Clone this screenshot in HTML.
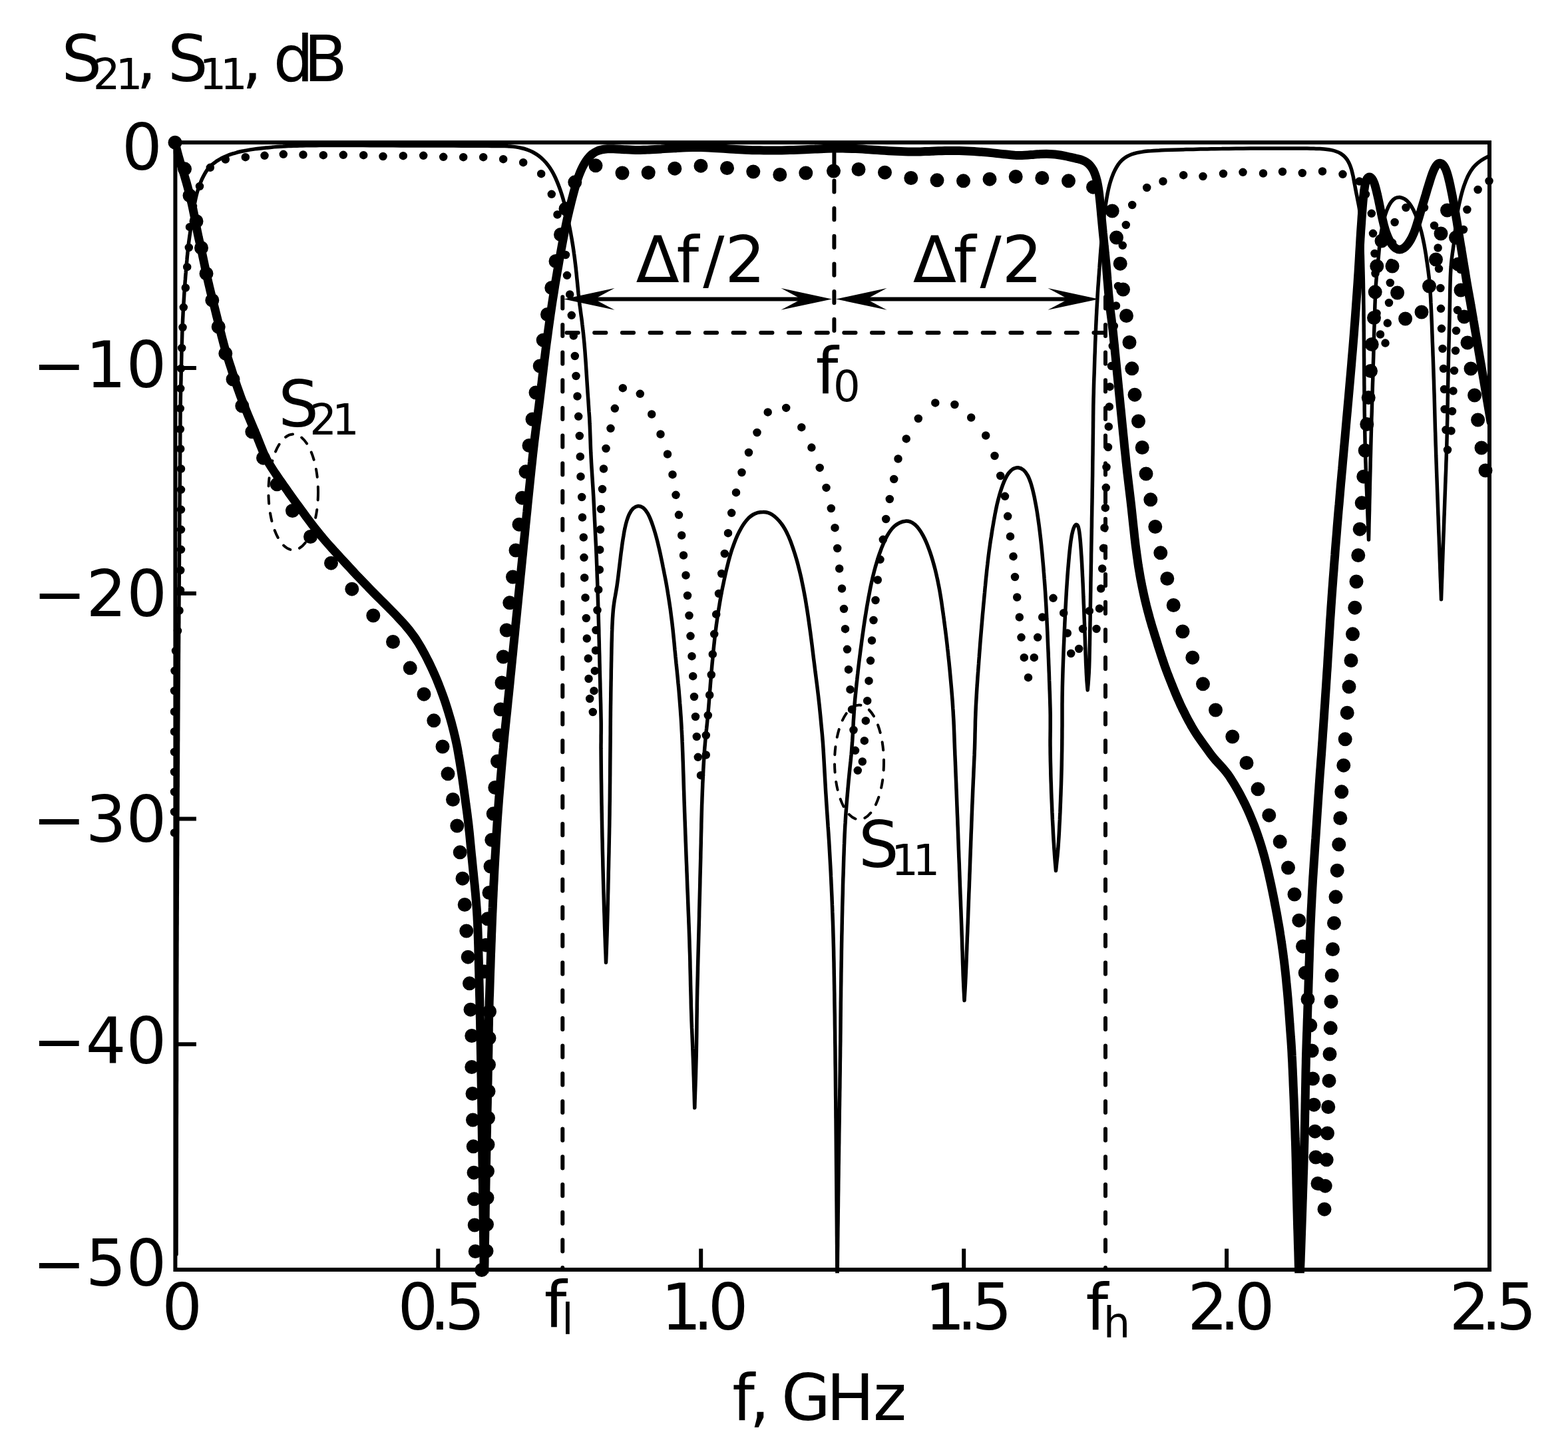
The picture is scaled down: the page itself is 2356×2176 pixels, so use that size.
<!DOCTYPE html>
<html lang="en"><head><meta charset="utf-8"><title>S21, S11 frequency response</title>
<style>html,body{margin:0;padding:0;background:#fff}body{width:2356px;height:2176px;overflow:hidden}svg{display:block}text{font-family:"DejaVu Sans","Liberation Sans",sans-serif;fill:#000}</style></head><body>
<svg xmlns="http://www.w3.org/2000/svg" width="2356" height="2176" viewBox="0 0 2356 2176">
<rect width="2356" height="2176" fill="#fff"/>
<defs><clipPath id="ax"><rect x="260.7" y="211.4" width="1980" height="1701.9"/></clipPath></defs>
<g fill="none" stroke="#000" stroke-width="6" stroke-linecap="round" stroke-dasharray="17.2 24.48">
<path d="M845.3 446.2V1908"/>
<path d="M1661 446.2V1908"/>
<path d="M1253.4 497V214"/>
<path d="M851.5 500H1662"/>
</g>
<g fill="none" stroke="#000" stroke-width="4" stroke-linecap="round" stroke-dasharray="12 14.5">
<ellipse cx="440.7" cy="739.5" rx="37.3" ry="87"/>
<ellipse cx="1291" cy="1145.5" rx="37" ry="86"/>
</g>
<g fill="none" stroke="#000" stroke-linejoin="round" stroke-linecap="round">
<path clip-path="url(#ax)" stroke-width="5.5" d="M265 1885C265 1881 265 1877.1 265 1873.1C265 1869.2 265 1865.2 265 1861.2C265 1857.3 265.1 1853.3 265.1 1849.4C265.1 1845.4 265.1 1841.5 265.1 1837.5C265.1 1833.5 265.1 1829.6 265.1 1825.6C265.1 1821.7 265.1 1817.7 265.1 1813.7C265.1 1809.8 265.1 1805.8 265.1 1801.9C265.1 1797.9 265.2 1794 265.2 1790C265.2 1786 265.2 1782.1 265.2 1778.1C265.2 1774.2 265.2 1770.2 265.2 1766.2C265.2 1762.3 265.2 1758.3 265.2 1754.4C265.2 1750.4 265.2 1746.5 265.2 1742.5C265.2 1738.5 265.3 1734.6 265.3 1730.6C265.3 1726.7 265.3 1722.7 265.3 1718.7C265.3 1714.8 265.3 1710.8 265.3 1706.9C265.3 1702.9 265.3 1699 265.3 1695C265.3 1691 265.3 1687.1 265.3 1683.1C265.3 1679.2 265.4 1675.2 265.4 1671.2C265.4 1667.3 265.4 1663.3 265.4 1659.4C265.4 1655.4 265.4 1651.5 265.4 1647.5C265.4 1643.5 265.4 1639.6 265.4 1635.6C265.4 1631.7 265.4 1627.7 265.5 1623.7C265.5 1619.8 265.5 1615.8 265.5 1611.9C265.5 1607.9 265.5 1604 265.5 1600C265.5 1596.1 265.5 1592.2 265.5 1588.2C265.5 1584.3 265.5 1580.4 265.5 1576.5C265.6 1572.5 265.6 1568.6 265.6 1564.7C265.6 1560.8 265.6 1556.9 265.6 1552.9C265.6 1549 265.6 1545.1 265.6 1541.2C265.6 1537.3 265.6 1533.3 265.6 1529.4C265.6 1525.5 265.7 1521.6 265.7 1517.6C265.7 1513.7 265.7 1509.8 265.7 1505.9C265.7 1502 265.7 1498 265.7 1494.1C265.7 1490.2 265.7 1486.3 265.7 1482.4C265.7 1478.4 265.8 1474.5 265.8 1470.6C265.8 1466.7 265.8 1462.7 265.8 1458.8C265.8 1454.9 265.8 1451 265.8 1447.1C265.8 1443.1 265.9 1439.2 265.9 1435.3C265.9 1431.4 265.9 1427.5 265.9 1423.5C265.9 1419.6 265.9 1415.7 266 1411.8C266 1407.9 266 1404 266 1400.1C266 1396.2 266 1392.4 266.1 1388.5C266.1 1384.7 266.1 1380.8 266.1 1377C266.1 1373.2 266.1 1369.3 266.2 1365.5C266.2 1361.7 266.2 1357.8 266.2 1354C266.2 1350.2 266.2 1346.3 266.3 1342.5C266.3 1338.7 266.3 1334.8 266.3 1331C266.3 1327.2 266.4 1323.3 266.4 1319.5C266.4 1315.7 266.4 1311.8 266.4 1308C266.5 1304.2 266.5 1300.3 266.5 1296.5C266.5 1292.7 266.5 1288.8 266.6 1285C266.6 1281.2 266.6 1277.3 266.6 1273.5C266.6 1269.7 266.7 1265.8 266.7 1262C266.7 1258.2 266.7 1254.3 266.8 1250.5C266.8 1246.7 266.8 1242.8 266.8 1239C266.8 1235.2 266.9 1231.3 266.9 1227.5C266.9 1223.7 266.9 1219.8 267 1216C267 1212.2 267 1208.3 267 1204.5C267 1200.7 267.1 1196.8 267.1 1193C267.1 1189.2 267.1 1185.3 267.2 1181.5C267.2 1177.7 267.2 1173.8 267.2 1170C267.2 1166.2 267.3 1162.3 267.3 1158.5C267.3 1154.7 267.3 1150.8 267.4 1147C267.4 1143.2 267.4 1139.3 267.4 1135.5C267.5 1131.6 267.5 1127.8 267.5 1123.9C267.5 1120 267.5 1116.1 267.6 1112.2C267.6 1108.3 267.6 1104.3 267.6 1100.4C267.7 1096.5 267.7 1092.6 267.7 1088.6C267.7 1084.7 267.8 1080.8 267.8 1076.8C267.8 1072.9 267.8 1069 267.9 1065.1C267.9 1061.1 267.9 1057.2 267.9 1053.3C268 1049.3 268 1045.4 268 1041.5C268 1037.5 268.1 1033.6 268.1 1029.7C268.1 1025.8 268.2 1021.8 268.2 1017.9C268.2 1014 268.2 1010 268.3 1006.1C268.3 1002.2 268.3 998.2 268.3 994.3C268.4 990.4 268.4 986.5 268.4 982.5C268.5 978.6 268.5 974.7 268.5 970.7C268.5 966.8 268.6 962.9 268.6 958.9C268.6 955 268.6 951.1 268.7 947.2C268.7 943.2 268.7 939.3 268.8 935.4C268.8 931.4 268.8 927.5 268.8 923.6C268.9 919.6 268.9 915.7 268.9 911.8C268.9 907.8 269 903.9 269 900C269 896 269.1 892 269.1 888.1C269.1 884.1 269.1 880.2 269.2 876.2C269.2 872.2 269.2 868.3 269.3 864.3C269.3 860.3 269.3 856.4 269.3 852.4C269.4 848.4 269.4 844.5 269.4 840.5C269.5 836.5 269.5 832.6 269.5 828.6C269.5 824.6 269.6 820.7 269.6 816.7C269.6 812.7 269.7 808.8 269.7 804.8C269.7 800.8 269.7 796.9 269.8 792.9C269.8 788.9 269.8 785 269.9 781C269.9 777 269.9 773.1 269.9 769.1C270 765.1 270 761.2 270 757.2C270.1 753.2 270.1 749.3 270.1 745.3C270.2 741.3 270.2 737.4 270.2 733.4C270.2 729.4 270.3 725.5 270.3 721.5C270.3 717.5 270.4 713.6 270.4 709.6C270.4 705.6 270.5 701.7 270.5 697.7C270.5 693.7 270.5 689.8 270.6 685.8C270.6 681.9 270.6 677.9 270.7 674C270.7 670.2 270.7 666.4 270.7 662.6C270.8 659 270.8 655.4 270.8 651.8C270.8 648.3 270.9 644.8 270.9 641.3C270.9 637.9 270.9 634.4 270.9 631C271 627.6 271 624.1 271 620.7C271.1 617.2 271.1 613.8 271.1 610.4C271.2 606.9 271.2 603.5 271.3 600.1C271.3 596.8 271.4 593.4 271.5 590C271.5 586.7 271.6 583.3 271.7 580C271.8 576.7 271.9 573.3 272 570C272 566.7 272.1 563.3 272.2 560C272.3 556.7 272.4 553.3 272.5 550C272.6 546.7 272.6 543.3 272.7 540C272.8 536.7 272.9 533.3 272.9 530C273 526.7 273.1 523.3 273.2 520C273.3 516.7 273.4 513.3 273.5 510C273.6 506.7 273.7 503.3 273.8 500C273.9 496.7 274 493.3 274.2 490C274.3 486.7 274.5 483.3 274.6 480C274.8 476.7 275 473.3 275.1 470C275.3 466.7 275.5 463.3 275.7 460C275.9 456.7 276.1 453.3 276.3 450C276.5 446.7 276.7 443.3 276.9 440C277.2 436.7 277.4 433.3 277.6 430C277.9 426.7 278.1 423.3 278.4 420C278.6 416.7 278.9 413.4 279.2 410C279.4 406.8 279.7 403.5 280 400.2C280.3 397 280.6 393.8 280.9 390.7C281.1 387.5 281.4 384.4 281.8 381.2C282.1 378.1 282.4 375 282.7 371.9C283.1 368.9 283.4 365.9 283.8 362.9C284.2 360 284.6 357.1 285 354.2C285.4 351.4 285.8 348.6 286.2 345.8C286.6 343 287 340.3 287.5 337.5C287.9 334.7 288.3 331.9 288.7 329.2C289.1 326.3 289.6 323.5 290 320.7C290.5 317.8 290.9 314.8 291.4 311.9C292 308.7 292.5 305.6 293.1 302.5C293.7 299.5 294.4 296.4 295.1 293.4C295.8 290.6 296.6 287.8 297.5 285C298.4 282.3 299.3 279.6 300.3 277C301.4 274.2 302.5 271.4 303.7 268.7C305 266 306.3 263.4 307.8 260.8C309.2 258.4 310.7 256 312.5 253.8C314.3 251.6 316.2 249.6 318.2 247.8C320.4 245.8 322.7 244.1 325.1 242.4C327.6 240.8 330.2 239.2 332.8 237.8C335.6 236.4 338.4 235.1 341.2 234C344 232.8 346.9 231.8 349.8 230.9C352.6 230 355.4 229.3 358.2 228.5C361 227.8 363.8 227.2 366.6 226.7C369.4 226.1 372.2 225.6 375 225.1C377.7 224.7 380.5 224.3 383.3 223.9C386.1 223.5 388.9 223.2 391.7 222.9C394.4 222.6 397.2 222.3 400 222C402.8 221.8 405.5 221.5 408.3 221.3C411.1 221 413.9 220.8 416.7 220.6C419.4 220.4 422.2 220.2 425 220.1C427.8 219.9 430.6 219.7 433.3 219.6C436.1 219.5 439 219.4 441.8 219.3C444.7 219.2 447.7 219.1 450.6 219C453.8 219 456.9 218.9 460.1 218.8C463.4 218.8 466.7 218.7 470 218.7C473.3 218.7 476.7 218.6 480 218.6C483.4 218.6 486.7 218.6 490.1 218.5C493.6 218.5 497 218.5 500.5 218.5C504.2 218.5 507.8 218.5 511.4 218.5C515.2 218.5 519 218.5 522.7 218.5C526.5 218.5 530.3 218.6 534.1 218.6C537.9 218.6 541.7 218.6 545.5 218.6C549.2 218.6 553 218.6 556.8 218.7C560.6 218.7 564.4 218.7 568.2 218.7C572 218.7 575.8 218.8 579.5 218.8C583.3 218.8 587.1 218.8 590.9 218.8C594.7 218.9 598.5 218.9 602.3 218.9C606.1 218.9 609.8 218.9 613.6 218.9C617.4 219 621.2 219 625 219C628.8 219 632.6 219 636.4 219C640.2 219 643.9 219.1 647.7 219.1C651.5 219.1 655.3 219.1 659.1 219.1C662.9 219.1 666.7 219.1 670.5 219.1C674.2 219.1 678 219.1 681.8 219.1C685.6 219.2 689.4 219.2 693.2 219.2C697 219.2 700.8 219.2 704.5 219.2C708.3 219.2 712.1 219.2 715.9 219.3C719.7 219.3 723.5 219.3 727.3 219.3C731 219.3 734.7 219.4 738.4 219.4C741.9 219.4 745.4 219.4 748.9 219.5C752 219.5 755.1 219.5 758.2 219.6C761 219.7 763.9 219.8 766.7 220C769.5 220.2 772.3 220.5 775.1 220.9C777.9 221.3 780.7 221.8 783.5 222.5C786.3 223.1 789.1 223.9 791.9 224.9C794.8 225.9 797.6 227.1 800.4 228.5C803.3 230.1 806.2 231.8 808.9 233.8C811.7 235.9 814.4 238.2 816.8 240.6C819.3 243.1 821.6 245.8 823.7 248.6C825.7 251.2 827.5 254 829.2 256.9C830.7 259.4 832.1 262.1 833.4 264.8C834.7 267.4 835.8 270 836.9 272.6C838.1 275.5 839.3 278.4 840.3 281.3C841.6 284.7 842.7 288 843.8 291.4C845 295.1 846.1 298.8 847.1 302.5C848.2 306.1 849.1 309.8 850 313.5C850.8 317 851.5 320.4 852.3 323.9C852.9 327 853.5 330.1 854.2 333.1C854.8 336 855.3 338.9 855.9 341.8C856.5 344.7 857 347.7 857.6 350.6C858.1 353.8 858.7 356.9 859.3 360.1C859.8 363.4 860.4 366.7 860.9 370C861.4 373.5 862 376.9 862.4 380.3C862.9 383.8 863.4 387.3 863.8 390.9C864.2 394.4 864.7 398 865.1 401.6C865.4 405 865.8 408.5 866.2 411.9C866.5 415.2 866.8 418.5 867.2 421.8C867.5 424.9 867.8 428.1 868.1 431.3C868.4 434.4 868.7 437.5 869 440.6C869.4 443.8 869.7 446.9 870.1 450C870.4 453.1 870.8 456.3 871.2 459.4C871.7 462.5 872.1 465.6 872.5 468.8C872.9 471.9 873.3 475 873.8 478.1C874.2 481.2 874.6 484.4 874.9 487.5C875.3 490.6 875.7 493.7 876 496.9C876.4 500 876.7 503.1 877 506.2C877.3 509.4 877.6 512.5 877.9 515.6C878.2 518.7 878.4 521.9 878.7 525C879 528.1 879.2 531.2 879.4 534.4C879.6 537.5 879.9 540.6 880.1 543.7C880.3 546.9 880.5 550 880.7 553.1C880.9 556.2 881.1 559.4 881.3 562.5C881.5 565.6 881.7 568.7 881.9 571.9C882.1 575 882.3 578.1 882.5 581.2C882.7 584.4 882.9 587.5 883.1 590.6C883.3 593.7 883.5 596.9 883.8 600C884 603.1 884.2 606.2 884.4 609.4C884.6 612.5 884.8 615.6 885 618.7C885.3 621.8 885.5 624.9 885.7 628C885.8 631 886 634 886.1 637C886.3 639.9 886.4 642.7 886.5 645.6C886.6 648.4 886.7 651.1 886.8 653.9C886.9 656.8 887 659.6 887.1 662.5C887.2 665.5 887.3 668.5 887.4 671.5C887.5 674.6 887.7 677.7 887.8 680.8C888 683.9 888.1 687 888.3 690.1C888.4 693.3 888.6 696.4 888.8 699.5C889 702.6 889.2 705.8 889.4 708.9C889.6 712 889.8 715.1 890 718.3C890.2 721.4 890.4 724.5 890.6 727.7C890.8 730.9 891 734 891.2 737.2C891.4 740.5 891.6 743.8 891.8 747C892 750.4 892.1 753.7 892.3 757C892.5 760.3 892.6 763.7 892.8 767C892.9 770.3 893.1 773.7 893.3 777C893.4 780.3 893.6 783.7 893.8 787C893.9 790.3 894.1 793.7 894.3 797C894.4 800.3 894.6 803.7 894.8 807C895 810.3 895.1 813.7 895.3 817C895.5 820.3 895.6 823.7 895.8 827C895.9 830.3 896.1 833.7 896.2 837C896.4 840.3 896.5 843.7 896.6 847C896.8 850.3 896.9 853.7 897 857C897.1 860.3 897.2 863.7 897.3 867C897.5 870.3 897.6 873.7 897.7 877C897.8 880.3 897.9 883.7 898 887C898.1 890.3 898.2 893.7 898.3 897C898.4 900.3 898.5 903.7 898.6 907C898.7 910.3 898.8 913.7 898.9 917C899 920.3 899.1 923.7 899.2 927C899.3 930.3 899.4 933.7 899.5 937C899.6 940.3 899.7 943.7 899.8 947C899.8 950.3 899.9 953.7 900 957C900.1 960.3 900.2 963.7 900.3 967C900.3 970.3 900.4 973.7 900.5 977C900.6 980.3 900.7 983.7 900.8 987C900.8 990.3 900.9 993.7 901 997C901.1 1000.3 901.2 1003.7 901.2 1007C901.3 1010.3 901.4 1013.7 901.5 1017C901.6 1020.3 901.7 1023.7 901.8 1027C901.8 1030.3 901.9 1033.7 902 1037C902.1 1040.3 902.2 1043.7 902.3 1047C902.4 1050.3 902.5 1053.7 902.6 1057C902.7 1060.3 902.7 1063.7 902.8 1067C902.9 1070.3 903 1073.6 903 1077C903.1 1080.2 903.2 1083.5 903.2 1086.7C903.2 1089.9 903.2 1093 903.2 1096.2C903.2 1099.3 903.2 1102.4 903.1 1105.5C903.1 1108.6 903.1 1111.7 903.1 1114.9C903 1118.1 903 1121.4 903 1124.7C903.1 1128.2 903.1 1131.7 903.1 1135.2C903.1 1138.9 903.2 1142.6 903.2 1146.2C903.2 1149.9 903.3 1153.6 903.3 1157.3C903.3 1161 903.4 1164.7 903.4 1168.4C903.5 1172.1 903.5 1175.9 903.6 1179.6C903.6 1183.3 903.7 1187 903.7 1190.7C903.8 1194.4 903.8 1198.1 903.9 1201.8C903.9 1205.5 904 1209.2 904.1 1212.9C904.1 1216.6 904.2 1220.3 904.3 1224C904.3 1227.7 904.4 1231.4 904.5 1235.1C904.5 1238.8 904.6 1242.5 904.7 1246.2C904.8 1249.9 904.8 1253.6 904.9 1257.3C905 1261 905.1 1264.7 905.2 1268.4C905.2 1272.2 905.3 1275.9 905.4 1279.6C905.5 1283.3 905.6 1287 905.7 1290.7C905.8 1294.4 905.8 1298.1 905.9 1301.8C906 1305.5 906.1 1309.2 906.2 1312.9C906.3 1316.5 906.4 1320.2 906.5 1323.9C906.6 1327.5 906.7 1331.1 906.8 1334.7C906.9 1338.3 907 1341.9 907.1 1345.4C907.2 1349 907.3 1352.6 907.4 1356.1C907.5 1359.7 907.6 1363.3 907.7 1366.9C907.8 1370.4 908 1374 908.1 1377.6C908.2 1381.2 908.3 1384.8 908.4 1388.4C908.5 1392.1 908.6 1395.7 908.8 1399.4C908.9 1403.3 909 1407.1 909.2 1410.9C909.3 1414.9 909.5 1418.8 909.6 1422.8C909.8 1426.7 909.9 1430.7 910.1 1434.6C910.2 1438.6 910.4 1442.5 910.5 1446.5L910.5 1446.5C910.7 1442.5 910.8 1438.6 911 1434.6C911.1 1430.7 911.3 1426.7 911.4 1422.8C911.6 1418.8 911.7 1414.9 911.8 1410.9C912 1407.1 912.1 1403.3 912.2 1399.4C912.3 1395.7 912.4 1392.1 912.5 1388.4C912.6 1384.8 912.7 1381.2 912.8 1377.6C912.9 1374 913 1370.4 913.1 1366.9C913.1 1363.3 913.2 1359.7 913.3 1356.1C913.4 1352.6 913.5 1349 913.5 1345.4C913.6 1341.8 913.7 1338.3 913.8 1334.7C913.8 1331.1 913.9 1327.5 914 1323.9C914.1 1320.2 914.2 1316.5 914.2 1312.9C914.3 1309.2 914.4 1305.5 914.5 1301.8C914.6 1298.1 914.6 1294.4 914.7 1290.7C914.8 1287 914.9 1283.3 915 1279.6C915 1275.9 915.1 1272.1 915.2 1268.4C915.3 1264.7 915.3 1261 915.4 1257.3C915.5 1253.6 915.6 1249.9 915.6 1246.2C915.7 1242.5 915.8 1238.8 915.8 1235.1C915.9 1231.4 915.9 1227.7 916 1224C916 1220.3 916.1 1216.6 916.1 1212.9C916.2 1209.2 916.2 1205.5 916.3 1201.8C916.3 1198.1 916.4 1194.4 916.4 1190.7C916.4 1187 916.5 1183.3 916.5 1179.6C916.6 1175.9 916.6 1172.1 916.6 1168.4C916.7 1164.7 916.7 1161 916.7 1157.3C916.7 1153.6 916.8 1149.9 916.8 1146.2C916.8 1142.5 916.9 1138.8 916.9 1135.2C916.9 1131.5 917 1127.9 917 1124.3C917 1120.8 917.1 1117.2 917.1 1113.7C917.1 1110.3 917.1 1106.8 917.2 1103.3C917.2 1099.9 917.2 1096.4 917.2 1093C917.3 1089.6 917.3 1086.1 917.3 1082.7C917.3 1079.2 917.4 1075.8 917.4 1072.3C917.4 1068.8 917.5 1065.3 917.5 1061.9C917.6 1058.3 917.6 1054.8 917.7 1051.3C917.7 1047.7 917.8 1044.1 917.8 1040.6C917.9 1037 917.9 1033.4 918 1029.9C918 1026.3 918.1 1022.7 918.2 1019.1C918.2 1015.6 918.3 1012 918.3 1008.4C918.4 1004.9 918.5 1001.3 918.5 997.8C918.6 994.3 918.7 990.8 918.7 987.3C918.8 983.9 918.9 980.5 918.9 977C919 973.7 919.1 970.3 919.1 967C919.2 963.7 919.3 960.3 919.4 957C919.5 953.6 919.5 950.3 919.7 946.9C919.8 943.5 919.9 940.1 920.1 936.7C920.3 933.2 920.4 929.6 920.7 926.1C920.9 922.5 921.2 919 921.5 915.4C921.9 912 922.3 908.7 922.8 905.3C923.2 902.1 923.8 899 924.4 895.8C924.9 892.7 925.5 889.6 926 886.5C926.6 883.3 927.1 880.1 927.5 876.9C928 873.6 928.4 870.3 928.8 867C929.2 863.7 929.6 860.3 930 857C930.4 853.7 930.8 850.3 931.2 847C931.6 843.7 932 840.3 932.4 837C932.8 833.6 933.2 830.2 933.7 826.9C934.2 823.4 934.6 819.9 935.1 816.3C935.7 812.6 936.2 808.9 936.9 805.2C937.5 801.3 938.1 797.5 939 793.7C939.8 789.9 940.6 786.2 941.8 782.5C942.9 779 944 775.5 945.7 772.2C947.3 769.2 949 766.2 951.4 764C953.5 762.2 956.1 760.6 958.8 760.4C961.4 760.2 964.1 761.4 966.3 763C968.9 764.9 970.7 767.6 972.4 770.3C974.4 773.3 975.8 776.6 977.2 779.9C978.6 783.3 979.9 786.8 981 790.3C982.2 793.9 983.3 797.4 984.4 801C985.4 804.5 986.4 808.1 987.3 811.6C988.2 815 989 818.5 989.8 821.9C990.6 825.2 991.3 828.6 992.1 832C992.8 835.3 993.5 838.6 994.2 842C994.9 845.3 995.6 848.6 996.2 852C996.9 855.3 997.6 858.6 998.2 862C998.9 865.3 999.5 868.6 1000.2 872C1000.8 875.3 1001.4 878.7 1002 882.1C1002.6 885.5 1003.2 889 1003.7 892.5C1004.3 896.1 1004.9 899.7 1005.4 903.3C1006 907 1006.5 910.7 1007.1 914.5C1007.6 918.2 1008.1 921.9 1008.5 925.7C1009 929.3 1009.5 932.9 1009.9 936.5C1010.3 940 1010.7 943.4 1011.1 946.9C1011.4 950.3 1011.8 953.6 1012.1 957C1012.4 960.3 1012.8 963.7 1013.1 967C1013.4 970.3 1013.7 973.7 1014 977C1014.4 980.3 1014.7 983.7 1015 987C1015.4 990.3 1015.7 993.7 1016 997C1016.4 1000.3 1016.7 1003.7 1017.1 1007C1017.4 1010.3 1017.7 1013.7 1018.1 1017C1018.4 1020.3 1018.7 1023.7 1019 1027C1019.4 1030.3 1019.7 1033.7 1020 1037C1020.3 1040.3 1020.5 1043.7 1020.8 1047C1021.1 1050.3 1021.4 1053.7 1021.6 1057C1021.9 1060.3 1022.1 1063.7 1022.4 1067C1022.6 1070.3 1022.8 1073.6 1023.1 1076.9C1023.3 1080.2 1023.5 1083.5 1023.7 1086.7C1023.9 1089.9 1024.1 1093 1024.2 1096.2C1024.4 1099.3 1024.6 1102.4 1024.7 1105.5C1024.9 1108.6 1025 1111.7 1025.1 1114.9C1025.3 1118.1 1025.4 1121.4 1025.5 1124.7C1025.6 1128.2 1025.8 1131.7 1025.9 1135.2C1026 1138.9 1026.1 1142.6 1026.3 1146.2C1026.4 1149.9 1026.5 1153.6 1026.6 1157.3C1026.7 1161 1026.9 1164.7 1027 1168.4C1027.1 1172.1 1027.2 1175.9 1027.3 1179.6C1027.4 1183.3 1027.5 1187 1027.7 1190.7C1027.8 1194.4 1027.9 1198.1 1028 1201.8C1028.1 1205.5 1028.3 1209.2 1028.4 1212.9C1028.5 1216.6 1028.6 1220.3 1028.8 1224C1028.9 1227.7 1029 1231.4 1029.2 1235.1C1029.3 1238.8 1029.4 1242.5 1029.6 1246.2C1029.7 1249.9 1029.8 1253.6 1030 1257.3C1030.1 1261 1030.2 1264.7 1030.4 1268.4C1030.5 1272.1 1030.7 1275.9 1030.8 1279.6C1030.9 1283.3 1031.1 1287 1031.2 1290.7C1031.4 1294.4 1031.5 1298.1 1031.7 1301.8C1031.8 1305.5 1031.9 1309.2 1032.1 1312.9C1032.2 1316.6 1032.4 1320.3 1032.5 1324C1032.6 1327.7 1032.8 1331.4 1032.9 1335.1C1033.1 1338.8 1033.2 1342.5 1033.4 1346.2C1033.5 1349.9 1033.7 1353.6 1033.8 1357.3C1033.9 1361 1034.1 1364.7 1034.2 1368.4C1034.4 1372.1 1034.5 1375.8 1034.7 1379.6C1034.8 1383.3 1034.9 1387 1035.1 1390.7C1035.2 1394.4 1035.4 1398.1 1035.5 1401.8C1035.6 1405.5 1035.8 1409.2 1035.9 1412.9C1036 1416.6 1036.1 1420.3 1036.2 1424C1036.3 1427.7 1036.5 1431.4 1036.6 1435.1C1036.7 1438.8 1036.8 1442.5 1036.9 1446.2C1036.9 1449.9 1037 1453.6 1037.1 1457.3C1037.2 1461 1037.3 1464.7 1037.4 1468.4C1037.5 1472.1 1037.5 1475.9 1037.6 1479.6C1037.7 1483.3 1037.8 1487 1037.9 1490.7C1038 1494.4 1038.1 1498.1 1038.2 1501.8C1038.2 1505.5 1038.3 1509.2 1038.4 1512.8C1038.5 1516.5 1038.7 1520.1 1038.8 1523.7C1038.9 1527.2 1039 1530.8 1039.1 1534.3C1039.3 1537.7 1039.4 1541.2 1039.5 1544.7C1039.7 1548.1 1039.8 1551.6 1040 1555C1040.1 1558.4 1040.3 1561.9 1040.4 1565.3C1040.6 1568.8 1040.7 1572.3 1040.8 1575.7C1041 1579.3 1041.1 1582.8 1041.2 1586.3C1041.4 1590 1041.5 1593.7 1041.6 1597.3C1041.8 1601 1041.9 1604.8 1042 1608.5C1042.1 1612.2 1042.2 1616 1042.4 1619.7C1042.5 1623.5 1042.6 1627.2 1042.7 1631C1042.8 1634.7 1042.9 1638.5 1043.1 1642.2C1043.2 1646 1043.3 1649.7 1043.4 1653.5C1043.5 1657.2 1043.6 1661 1043.8 1664.8L1043.8 1664.8C1043.9 1661 1044 1657.3 1044.1 1653.5C1044.3 1649.8 1044.4 1646 1044.5 1642.3C1044.6 1638.5 1044.8 1634.8 1044.9 1631C1045 1627.3 1045.1 1623.5 1045.3 1619.8C1045.4 1616 1045.5 1612.3 1045.6 1608.5C1045.7 1604.8 1045.8 1601 1045.9 1597.3C1046 1593.6 1046.1 1589.9 1046.2 1586.1C1046.3 1582.5 1046.4 1578.8 1046.4 1575.1C1046.5 1571.5 1046.6 1567.9 1046.6 1564.3C1046.7 1560.6 1046.7 1557 1046.8 1553.4C1046.8 1549.8 1046.9 1546.1 1046.9 1542.5C1046.9 1538.9 1047 1535.3 1047 1531.6C1047.1 1528 1047.1 1524.4 1047.2 1520.7C1047.2 1517.1 1047.3 1513.5 1047.3 1509.9C1047.4 1506.2 1047.4 1502.6 1047.5 1498.9C1047.6 1495.2 1047.7 1491.6 1047.7 1487.9C1047.8 1484.2 1047.9 1480.5 1048 1476.8C1048.1 1473.1 1048.2 1469.4 1048.3 1465.7C1048.4 1462 1048.5 1458.3 1048.5 1454.6C1048.6 1450.9 1048.7 1447.1 1048.8 1443.4C1048.9 1439.7 1049 1436 1049.1 1432.3C1049.2 1428.6 1049.3 1424.9 1049.4 1421.2C1049.5 1417.5 1049.6 1413.8 1049.7 1410.1C1049.8 1406.4 1049.9 1402.7 1050 1399C1050.1 1395.3 1050.2 1391.6 1050.3 1387.9C1050.4 1384.2 1050.5 1380.5 1050.6 1376.8C1050.6 1373.1 1050.7 1369.4 1050.8 1365.7C1050.9 1362 1051 1358.3 1051.1 1354.6C1051.2 1350.9 1051.3 1347.1 1051.4 1343.4C1051.5 1339.7 1051.6 1336 1051.7 1332.3C1051.8 1328.6 1051.9 1324.9 1051.9 1321.2C1052 1317.5 1052.1 1313.8 1052.2 1310.1C1052.3 1306.4 1052.4 1302.7 1052.5 1299C1052.6 1295.3 1052.7 1291.6 1052.8 1287.9C1052.8 1284.2 1052.9 1280.5 1053 1276.8C1053.1 1273.1 1053.2 1269.4 1053.3 1265.7C1053.3 1262 1053.4 1258.3 1053.5 1254.6C1053.6 1250.8 1053.7 1247.1 1053.8 1243.4C1053.8 1239.7 1053.9 1236 1054 1232.3C1054.1 1228.6 1054.2 1224.9 1054.3 1221.2C1054.4 1217.5 1054.5 1213.8 1054.6 1210.1C1054.8 1206.5 1054.9 1202.8 1055 1199.1C1055.1 1195.5 1055.3 1191.9 1055.4 1188.3C1055.6 1184.7 1055.7 1181.1 1055.8 1177.6C1056 1174 1056.2 1170.4 1056.3 1166.8C1056.5 1163.3 1056.7 1159.7 1056.8 1156.1C1057 1152.6 1057.2 1149 1057.4 1145.4C1057.6 1141.9 1057.8 1138.3 1058.1 1134.8C1058.3 1131.3 1058.5 1127.8 1058.8 1124.3C1059.1 1120.9 1059.4 1117.5 1059.7 1114.1C1060 1110.8 1060.3 1107.5 1060.6 1104.2C1061 1100.9 1061.3 1097.6 1061.7 1094.3C1062 1091 1062.4 1087.7 1062.7 1084.4C1063.1 1081 1063.4 1077.7 1063.7 1074.3C1064 1070.9 1064.3 1067.5 1064.6 1064.1C1064.9 1060.6 1065.2 1057.1 1065.4 1053.7C1065.7 1050.2 1066 1046.7 1066.2 1043.2C1066.5 1039.8 1066.8 1036.3 1067.1 1032.8C1067.3 1029.4 1067.6 1025.9 1067.9 1022.4C1068.2 1018.9 1068.5 1015.5 1068.8 1012C1069.1 1008.5 1069.4 1005 1069.7 1001.6C1070 998.1 1070.3 994.6 1070.7 991.1C1071 987.7 1071.3 984.2 1071.7 980.7C1072 977.3 1072.3 973.8 1072.7 970.3C1073.1 966.8 1073.4 963.4 1073.8 959.9C1074.2 956.5 1074.6 953.1 1075 949.6C1075.5 946.3 1075.9 942.9 1076.3 939.5C1076.8 936.2 1077.3 932.8 1077.7 929.5C1078.2 926.1 1078.7 922.8 1079.2 919.5C1079.8 916.1 1080.3 912.8 1080.9 909.4C1081.4 906 1082 902.6 1082.6 899.2C1083.2 895.8 1083.9 892.3 1084.5 888.8C1085.2 885.3 1085.9 881.7 1086.7 878.2C1087.4 874.7 1088.1 871.1 1088.9 867.6C1089.7 864 1090.5 860.4 1091.3 856.9C1092.2 853.3 1093.1 849.7 1094 846.1C1094.9 842.5 1095.9 838.9 1096.9 835.3C1097.9 831.8 1099 828.2 1100.2 824.7C1101.4 821.3 1102.6 817.8 1103.9 814.4C1105.2 811 1106.6 807.7 1108.1 804.4C1109.6 801.1 1111.2 797.9 1113 794.8C1114.7 791.7 1116.5 788.7 1118.6 785.9C1120.5 783.3 1122.5 780.8 1124.7 778.6C1126.7 776.7 1128.9 774.9 1131.3 773.5C1133.6 772.1 1136 771.1 1138.6 770.4C1141.1 769.7 1143.8 769.4 1146.4 769.4C1148.8 769.3 1151.4 769.6 1153.7 770.4C1156.2 771.1 1158.6 772.3 1160.7 773.8C1163.2 775.4 1165.5 777.4 1167.7 779.6C1170 781.9 1172.2 784.4 1174.1 787C1176.1 789.6 1177.8 792.3 1179.4 795.1C1181 797.9 1182.4 800.7 1183.7 803.6C1185.1 806.5 1186.3 809.5 1187.5 812.5C1188.7 815.6 1189.8 818.8 1190.9 822C1192.1 825.3 1193.1 828.6 1194.2 831.9C1195.2 835.2 1196.2 838.5 1197.2 841.9C1198.1 845.1 1199 848.4 1199.8 851.7C1200.7 855 1201.4 858.2 1202.2 861.4C1203 864.6 1203.7 867.7 1204.4 870.9C1205 874.1 1205.7 877.3 1206.3 880.4C1207 883.6 1207.6 886.8 1208.2 890C1208.8 893.2 1209.4 896.4 1210 899.7C1210.5 902.9 1211.1 906.2 1211.6 909.5C1212.2 912.8 1212.7 916.1 1213.2 919.5C1213.7 922.8 1214.2 926.1 1214.7 929.5C1215.2 932.8 1215.6 936.1 1216.1 939.5C1216.6 942.8 1217 946.2 1217.5 949.5C1217.9 952.8 1218.4 956.2 1218.8 959.5C1219.2 962.8 1219.7 966.2 1220.1 969.5C1220.5 972.8 1220.9 976.2 1221.3 979.5C1221.7 982.8 1222.1 986.2 1222.5 989.5C1222.9 992.8 1223.4 996.2 1223.8 999.5C1224.2 1002.8 1224.6 1006.2 1225 1009.5C1225.5 1012.8 1225.9 1016.2 1226.3 1019.5C1226.7 1022.8 1227.2 1026.2 1227.6 1029.5C1228 1032.8 1228.4 1036.2 1228.8 1039.5C1229.2 1042.8 1229.6 1046.2 1230 1049.5C1230.3 1052.8 1230.7 1056.2 1231.1 1059.5C1231.4 1062.8 1231.8 1066.2 1232.1 1069.5C1232.4 1072.8 1232.8 1076.2 1233.1 1079.5C1233.4 1082.8 1233.7 1086.1 1234 1089.4C1234.3 1092.5 1234.6 1095.7 1234.9 1098.8C1235.2 1101.7 1235.5 1104.6 1235.7 1107.5C1235.9 1110.4 1236.2 1113.2 1236.4 1116C1236.6 1119 1236.8 1122 1237 1125C1237.2 1128.3 1237.4 1131.6 1237.6 1134.9C1237.8 1138.4 1238 1141.9 1238.2 1145.4C1238.4 1149 1238.6 1152.6 1238.8 1156.1C1239 1159.7 1239.2 1163.3 1239.4 1166.9C1239.6 1170.4 1239.8 1174 1240 1177.6C1240.2 1181.1 1240.4 1184.7 1240.6 1188.3C1240.8 1191.9 1241.1 1195.4 1241.3 1199C1241.5 1202.6 1241.7 1206.1 1242 1209.7C1242.2 1213.3 1242.4 1216.9 1242.7 1220.4C1242.9 1224 1243.2 1227.6 1243.4 1231.1C1243.7 1234.7 1243.9 1238.3 1244.1 1241.9C1244.4 1245.4 1244.6 1249 1244.9 1252.6C1245.1 1256.1 1245.3 1259.7 1245.6 1263.3C1245.8 1266.9 1246 1270.4 1246.2 1274C1246.4 1277.6 1246.6 1281.1 1246.8 1284.7C1247 1288.3 1247.2 1291.9 1247.4 1295.4C1247.6 1299 1247.8 1302.6 1248 1306.1C1248.2 1309.7 1248.4 1313.3 1248.5 1316.9C1248.7 1320.4 1248.9 1324 1249 1327.6C1249.2 1331.1 1249.4 1334.7 1249.5 1338.3C1249.7 1341.9 1249.8 1345.4 1250 1349C1250.1 1352.6 1250.3 1356.1 1250.4 1359.7C1250.6 1363.3 1250.7 1366.9 1250.8 1370.4C1251 1374 1251.1 1377.6 1251.2 1381.1C1251.4 1384.7 1251.5 1388.3 1251.6 1391.9C1251.7 1395.4 1251.8 1399 1251.9 1402.6C1252 1406.2 1252.1 1409.7 1252.2 1413.3C1252.3 1417 1252.4 1420.7 1252.5 1424.3C1252.6 1428.1 1252.7 1431.9 1252.7 1435.6C1252.8 1439.5 1252.9 1443.3 1253 1447.1C1253 1451 1253.1 1454.9 1253.2 1458.7C1253.2 1462.6 1253.3 1466.4 1253.4 1470.3C1253.4 1474.1 1253.5 1478 1253.6 1481.9C1253.6 1485.7 1253.7 1489.6 1253.8 1493.4C1253.8 1497.3 1253.9 1501.1 1253.9 1505C1254 1508.9 1254 1512.7 1254.1 1516.6C1254.2 1520.4 1254.2 1524.3 1254.3 1528.1C1254.3 1532 1254.4 1535.9 1254.4 1539.7C1254.5 1543.6 1254.5 1547.4 1254.6 1551.3C1254.6 1555.1 1254.7 1559 1254.7 1562.9C1254.8 1566.7 1254.8 1570.6 1254.9 1574.4C1254.9 1578.3 1255 1582.2 1255 1586.1C1255 1590 1255.1 1594 1255.1 1597.9C1255.2 1601.9 1255.2 1605.8 1255.3 1609.8C1255.3 1613.7 1255.4 1617.7 1255.4 1621.7C1255.4 1625.6 1255.5 1629.6 1255.5 1633.6C1255.6 1637.5 1255.6 1641.5 1255.6 1645.4C1255.7 1649.4 1255.7 1653.4 1255.8 1657.3C1255.8 1661.3 1255.8 1665.3 1255.9 1669.2C1255.9 1673.2 1255.9 1677.1 1256 1681.1C1256 1685.1 1256.1 1689 1256.1 1693C1256.1 1697 1256.2 1700.9 1256.2 1704.9C1256.2 1708.9 1256.3 1712.8 1256.3 1716.8C1256.3 1720.7 1256.4 1724.7 1256.4 1728.7C1256.4 1732.6 1256.5 1736.6 1256.5 1740.6C1256.5 1744.5 1256.6 1748.5 1256.6 1752.4C1256.6 1756.4 1256.7 1760.4 1256.7 1764.3C1256.7 1768.3 1256.8 1772.3 1256.8 1776.2C1256.8 1780.2 1256.9 1784.1 1256.9 1788.1C1256.9 1792.1 1257 1796 1257 1800C1257 1803.9 1257.1 1807.9 1257.1 1811.8C1257.1 1815.8 1257.2 1819.7 1257.2 1823.6C1257.2 1827.6 1257.3 1831.5 1257.3 1835.5C1257.3 1839.4 1257.4 1843.3 1257.4 1847.3C1257.4 1851.2 1257.4 1855.2 1257.5 1859.1C1257.5 1863 1257.5 1867 1257.6 1870.9C1257.6 1874.8 1257.6 1878.8 1257.6 1882.7C1257.7 1886.7 1257.7 1890.6 1257.7 1894.5C1257.8 1898.5 1257.8 1902.4 1257.8 1906.4C1257.9 1910.3 1257.9 1914.2 1257.9 1918.2C1257.9 1922.1 1258 1926.1 1258 1930L1258 1930C1258 1926.1 1258.1 1922.1 1258.1 1918.2C1258.2 1914.2 1258.2 1910.3 1258.3 1906.4C1258.3 1902.4 1258.4 1898.5 1258.4 1894.5C1258.4 1890.6 1258.5 1886.7 1258.5 1882.7C1258.6 1878.8 1258.6 1874.8 1258.7 1870.9C1258.7 1867 1258.7 1863 1258.8 1859.1C1258.8 1855.2 1258.9 1851.2 1258.9 1847.3C1259 1843.3 1259 1839.4 1259.1 1835.5C1259.1 1831.5 1259.2 1827.6 1259.2 1823.6C1259.3 1819.7 1259.3 1815.8 1259.4 1811.8C1259.4 1807.9 1259.5 1803.9 1259.5 1800C1259.6 1796 1259.6 1792.1 1259.7 1788.1C1259.7 1784.1 1259.8 1780.2 1259.8 1776.2C1259.9 1772.3 1259.9 1768.3 1260 1764.3C1260 1760.4 1260.1 1756.4 1260.1 1752.4C1260.2 1748.5 1260.3 1744.5 1260.3 1740.6C1260.4 1736.6 1260.4 1732.6 1260.5 1728.7C1260.5 1724.7 1260.6 1720.7 1260.7 1716.8C1260.7 1712.8 1260.8 1708.9 1260.8 1704.9C1260.9 1700.9 1260.9 1697 1261 1693C1261.1 1689 1261.1 1685.1 1261.2 1681.1C1261.2 1677.1 1261.3 1673.2 1261.3 1669.2C1261.4 1665.3 1261.5 1661.3 1261.5 1657.3C1261.6 1653.4 1261.6 1649.4 1261.7 1645.4C1261.7 1641.5 1261.8 1637.5 1261.9 1633.6C1261.9 1629.6 1262 1625.6 1262 1621.7C1262.1 1617.7 1262.1 1613.7 1262.2 1609.8C1262.2 1605.8 1262.3 1601.9 1262.3 1597.9C1262.4 1594 1262.4 1590.1 1262.5 1586.3C1262.5 1582.5 1262.6 1578.6 1262.6 1574.8C1262.7 1571.1 1262.7 1567.3 1262.8 1563.6C1262.8 1559.9 1262.8 1556.1 1262.9 1552.4C1262.9 1548.7 1263 1544.9 1263 1541.2C1263 1537.5 1263.1 1533.7 1263.1 1530C1263.1 1526.3 1263.2 1522.5 1263.2 1518.8C1263.3 1515.1 1263.3 1511.3 1263.3 1507.6C1263.4 1503.9 1263.4 1500.1 1263.5 1496.4C1263.5 1492.7 1263.6 1488.9 1263.6 1485.2C1263.7 1481.5 1263.7 1477.8 1263.8 1474C1263.8 1470.3 1263.9 1466.6 1263.9 1462.9C1264 1459.2 1264 1455.5 1264.1 1451.8C1264.1 1448.1 1264.2 1444.4 1264.3 1440.7C1264.3 1437 1264.4 1433.3 1264.4 1429.6C1264.5 1425.9 1264.6 1422.1 1264.6 1418.4C1264.7 1414.7 1264.8 1411 1264.8 1407.3C1264.9 1403.6 1265 1399.9 1265.1 1396.2C1265.1 1392.5 1265.2 1388.8 1265.3 1385.1C1265.3 1381.5 1265.4 1377.8 1265.5 1374.1C1265.6 1370.5 1265.7 1366.9 1265.7 1363.3C1265.8 1359.7 1265.9 1356.1 1266 1352.6C1266.1 1349 1266.2 1345.4 1266.3 1341.9C1266.4 1338.3 1266.4 1334.7 1266.5 1331.1C1266.6 1327.6 1266.7 1324 1266.8 1320.4C1267 1316.9 1267.1 1313.3 1267.2 1309.7C1267.3 1306.2 1267.4 1302.7 1267.5 1299.1C1267.6 1295.6 1267.7 1292.1 1267.8 1288.6C1268 1285.1 1268.1 1281.6 1268.2 1278.2C1268.3 1274.7 1268.4 1271.2 1268.6 1267.7C1268.7 1264.3 1268.8 1260.8 1269 1257.3C1269.1 1253.9 1269.3 1250.4 1269.5 1246.9C1269.7 1243.4 1269.8 1240 1270.1 1236.5C1270.3 1233 1270.5 1229.5 1270.7 1226.1C1271 1222.6 1271.2 1219.1 1271.5 1215.7C1271.7 1212.2 1272 1208.7 1272.3 1205.2C1272.6 1201.8 1272.9 1198.3 1273.2 1194.8C1273.5 1191.4 1273.8 1187.9 1274.1 1184.4C1274.4 1181 1274.7 1177.6 1275 1174.2C1275.3 1170.8 1275.7 1167.4 1276 1164C1276.3 1160.7 1276.7 1157.3 1277 1154C1277.4 1150.7 1277.7 1147.3 1278.1 1144C1278.4 1140.7 1278.7 1137.3 1279.1 1134C1279.4 1130.6 1279.7 1127.3 1279.9 1123.9C1280.2 1120.5 1280.4 1117.1 1280.7 1113.7C1280.9 1110.2 1281.1 1106.8 1281.3 1103.3C1281.5 1099.9 1281.7 1096.4 1281.9 1093C1282.1 1089.6 1282.2 1086.1 1282.4 1082.7C1282.7 1079.2 1282.9 1075.8 1283.1 1072.3C1283.3 1068.9 1283.5 1065.5 1283.8 1062.1C1284.1 1058.7 1284.3 1055.4 1284.6 1052C1284.9 1048.7 1285.2 1045.3 1285.6 1042C1285.9 1038.6 1286.2 1035.3 1286.6 1032C1286.9 1028.7 1287.3 1025.3 1287.7 1022C1288 1018.7 1288.4 1015.3 1288.8 1012C1289.1 1008.7 1289.5 1005.3 1289.9 1002C1290.3 998.7 1290.7 995.3 1291.1 992C1291.5 988.7 1292 985.3 1292.4 982C1292.8 978.7 1293.2 975.3 1293.7 972C1294.1 968.7 1294.6 965.3 1295 962C1295.5 958.7 1295.9 955.3 1296.4 952C1296.9 948.6 1297.3 945.3 1297.8 942C1298.3 938.6 1298.8 935.3 1299.3 932C1299.8 928.6 1300.3 925.3 1300.9 922C1301.4 918.6 1302 915.3 1302.5 912C1303.1 908.6 1303.7 905.3 1304.3 902C1304.9 898.6 1305.5 895.3 1306.2 891.9C1306.8 888.6 1307.4 885.3 1308.1 881.9C1308.8 878.6 1309.5 875.3 1310.3 871.9C1311 868.6 1311.8 865.3 1312.7 861.9C1313.5 858.6 1314.4 855.2 1315.3 851.9C1316.3 848.5 1317.3 845.2 1318.3 841.9C1319.3 838.5 1320.4 835.2 1321.5 832C1322.7 828.8 1323.8 825.6 1325 822.5C1326.2 819.5 1327.5 816.5 1328.8 813.6C1330.1 810.7 1331.5 807.9 1333 805.2C1334.5 802.6 1336.1 800 1337.9 797.5C1339.7 795.1 1341.7 792.8 1343.9 790.8C1346.2 788.8 1348.7 787 1351.5 785.7C1354.2 784.4 1357.1 783.4 1360 783.2C1362.7 782.9 1365.5 783.3 1368 784.2C1370.7 785.2 1373 786.9 1375.1 788.7C1377.5 790.8 1379.5 793.3 1381.4 795.9C1383.6 798.8 1385.4 801.9 1387.1 805.1C1388.9 808.4 1390.5 811.8 1392 815.3C1393.5 818.8 1394.8 822.4 1396.1 826C1397.4 829.5 1398.6 833 1399.7 836.6C1400.8 840 1401.8 843.4 1402.7 846.9C1403.7 850.2 1404.5 853.5 1405.4 856.9C1406.2 860.2 1407 863.6 1407.7 866.9C1408.5 870.2 1409.2 873.5 1409.8 876.8C1410.5 880 1411.1 883.2 1411.7 886.4C1412.2 889.6 1412.8 892.8 1413.3 896C1413.8 899.1 1414.3 902.3 1414.8 905.5C1415.2 908.6 1415.7 911.8 1416.1 915C1416.6 918.2 1417.1 921.4 1417.5 924.7C1418 928 1418.4 931.2 1418.8 934.5C1419.3 937.8 1419.7 941.2 1420.1 944.5C1420.6 947.8 1421 951.1 1421.4 954.5C1421.8 957.8 1422.2 961.2 1422.6 964.5C1423 967.8 1423.4 971.2 1423.7 974.5C1424.1 977.8 1424.5 981.2 1424.8 984.5C1425.2 987.8 1425.5 991.2 1425.9 994.5C1426.2 997.8 1426.5 1001.2 1426.9 1004.5C1427.2 1007.8 1427.5 1011.2 1427.8 1014.5C1428.1 1017.8 1428.4 1021.2 1428.7 1024.5C1429 1027.8 1429.3 1031.2 1429.6 1034.5C1429.9 1037.8 1430.1 1041.2 1430.4 1044.5C1430.7 1047.8 1430.9 1051.2 1431.2 1054.5C1431.4 1057.8 1431.6 1061.2 1431.8 1064.5C1432.1 1067.8 1432.3 1071.1 1432.4 1074.5C1432.6 1077.8 1432.8 1081.1 1433 1084.4C1433.1 1087.7 1433.3 1091 1433.4 1094.3C1433.5 1097.6 1433.7 1100.9 1433.8 1104.2C1433.9 1107.5 1434 1110.8 1434.1 1114.1C1434.3 1117.5 1434.4 1120.9 1434.5 1124.3C1434.7 1127.8 1434.8 1131.3 1434.9 1134.8C1435.1 1138.3 1435.2 1141.9 1435.4 1145.4C1435.5 1149 1435.7 1152.6 1435.8 1156.1C1435.9 1159.7 1436.1 1163.3 1436.2 1166.9C1436.4 1170.4 1436.5 1174 1436.7 1177.6C1436.8 1181.2 1436.9 1184.7 1437.1 1188.3C1437.2 1191.9 1437.4 1195.5 1437.5 1199.1C1437.6 1202.8 1437.8 1206.5 1437.9 1210.1C1438.1 1213.8 1438.2 1217.5 1438.3 1221.2C1438.5 1224.9 1438.6 1228.6 1438.8 1232.3C1438.9 1236 1439 1239.7 1439.2 1243.4C1439.3 1247.1 1439.5 1250.9 1439.6 1254.6C1439.7 1258.3 1439.9 1262 1440 1265.7C1440.1 1269.4 1440.3 1273.1 1440.4 1276.8C1440.6 1280.5 1440.7 1284.2 1440.8 1287.9C1441 1291.6 1441.1 1295.3 1441.3 1299C1441.4 1302.7 1441.5 1306.4 1441.7 1310.1C1441.8 1313.8 1442 1317.5 1442.1 1321.2C1442.2 1324.9 1442.4 1328.6 1442.5 1332.3C1442.7 1336 1442.8 1339.7 1442.9 1343.4C1443.1 1347.1 1443.2 1350.9 1443.4 1354.6C1443.5 1358.3 1443.6 1362 1443.8 1365.7C1443.9 1369.4 1444.1 1373.1 1444.2 1376.8C1444.3 1380.5 1444.5 1384.2 1444.6 1387.9C1444.7 1391.5 1444.9 1395.2 1445 1398.9C1445.1 1402.5 1445.2 1406.1 1445.4 1409.7C1445.5 1413.3 1445.6 1416.8 1445.7 1420.4C1445.8 1424 1445.9 1427.6 1446.1 1431.1C1446.2 1434.7 1446.3 1438.3 1446.4 1441.9C1446.5 1445.4 1446.6 1449 1446.8 1452.6C1446.9 1456.1 1447 1459.7 1447.1 1463.2C1447.2 1466.7 1447.4 1470.2 1447.5 1473.7C1447.7 1477 1447.8 1480.4 1448 1483.8C1448.1 1487.1 1448.3 1490.4 1448.5 1493.7C1448.6 1496.9 1448.8 1500.2 1449 1503.5L1449 1503.5C1449.2 1500.2 1449.4 1496.9 1449.6 1493.7C1449.8 1490.4 1450 1487.1 1450.2 1483.8C1450.4 1480.4 1450.6 1477 1450.7 1473.7C1450.9 1470.2 1451.1 1466.7 1451.2 1463.2C1451.4 1459.7 1451.5 1456.1 1451.7 1452.6C1451.8 1449 1452 1445.4 1452.1 1441.9C1452.2 1438.3 1452.4 1434.7 1452.5 1431.1C1452.7 1427.6 1452.8 1424 1452.9 1420.4C1453.1 1416.9 1453.2 1413.3 1453.3 1409.7C1453.5 1406.1 1453.6 1402.5 1453.8 1398.9C1453.9 1395.2 1454 1391.5 1454.2 1387.9C1454.3 1384.2 1454.5 1380.5 1454.6 1376.8C1454.7 1373.1 1454.9 1369.4 1455 1365.7C1455.2 1362 1455.3 1358.3 1455.4 1354.6C1455.6 1350.9 1455.7 1347.1 1455.8 1343.4C1456 1339.7 1456.1 1336 1456.3 1332.3C1456.4 1328.6 1456.5 1324.9 1456.7 1321.2C1456.8 1317.5 1456.9 1313.8 1457.1 1310.1C1457.2 1306.4 1457.4 1302.7 1457.5 1299C1457.6 1295.3 1457.8 1291.6 1457.9 1287.9C1458 1284.2 1458.2 1280.5 1458.3 1276.8C1458.5 1273.1 1458.6 1269.4 1458.7 1265.7C1458.9 1262 1459 1258.3 1459.1 1254.6C1459.3 1250.9 1459.4 1247.1 1459.6 1243.4C1459.7 1239.7 1459.8 1236 1460 1232.3C1460.1 1228.6 1460.2 1224.9 1460.4 1221.2C1460.5 1217.5 1460.7 1213.8 1460.8 1210.1C1461 1206.5 1461.1 1202.8 1461.3 1199.1C1461.4 1195.5 1461.6 1191.9 1461.7 1188.3C1461.9 1184.7 1462 1181.2 1462.2 1177.6C1462.3 1174 1462.5 1170.4 1462.7 1166.9C1462.8 1163.3 1463 1159.7 1463.1 1156.1C1463.3 1152.6 1463.5 1149 1463.6 1145.4C1463.8 1141.9 1463.9 1138.3 1464.1 1134.7C1464.2 1131.2 1464.3 1127.7 1464.5 1124.1C1464.6 1120.7 1464.7 1117.2 1464.8 1113.7C1464.9 1110.2 1465 1106.8 1465 1103.3C1465.1 1099.9 1465.2 1096.4 1465.3 1093C1465.4 1089.6 1465.4 1086.1 1465.5 1082.7C1465.6 1079.2 1465.8 1075.8 1465.9 1072.3C1466 1068.8 1466.2 1065.3 1466.3 1061.9C1466.5 1058.3 1466.7 1054.8 1466.9 1051.3C1467.1 1047.7 1467.3 1044.1 1467.5 1040.6C1467.7 1037 1467.9 1033.4 1468.2 1029.8C1468.4 1026.3 1468.7 1022.7 1468.9 1019.1C1469.1 1015.6 1469.4 1012 1469.7 1008.4C1469.9 1004.8 1470.2 1001.3 1470.5 997.7C1470.7 994.1 1471 990.6 1471.3 987C1471.5 983.4 1471.8 979.9 1472.1 976.3C1472.4 972.7 1472.6 969.1 1472.9 965.6C1473.2 962 1473.5 958.4 1473.8 954.8C1474.1 951.3 1474.4 947.7 1474.7 944.1C1475 940.6 1475.3 937 1475.6 933.4C1475.9 929.8 1476.2 926.3 1476.5 922.7C1476.9 919.1 1477.2 915.6 1477.5 912C1477.8 908.4 1478.2 904.8 1478.5 901.3C1478.8 897.7 1479.1 894.1 1479.5 890.6C1479.8 887 1480.1 883.4 1480.5 879.8C1480.8 876.3 1481.2 872.7 1481.5 869.1C1481.9 865.5 1482.3 862 1482.6 858.4C1483 854.8 1483.4 851.3 1483.8 847.7C1484.2 844.2 1484.6 840.7 1485 837.3C1485.4 833.8 1485.9 830.4 1486.3 827C1486.8 823.7 1487.3 820.3 1487.7 817C1488.2 813.6 1488.7 810.3 1489.3 807C1489.8 803.6 1490.3 800.3 1490.8 797C1491.4 793.7 1491.9 790.5 1492.5 787.2C1493 784 1493.6 780.8 1494.2 777.6C1494.7 774.5 1495.3 771.3 1496 768.2C1496.6 765 1497.2 761.9 1497.9 758.8C1498.7 755.6 1499.4 752.4 1500.3 749.2C1501.2 745.9 1502.1 742.6 1503.1 739.3C1504.1 736 1505.2 732.7 1506.4 729.5C1507.6 726.3 1508.8 723.1 1510.3 720C1511.7 717.1 1513.1 714.1 1515.1 711.5C1517 709.1 1519 706.6 1521.7 705C1524.2 703.6 1527.1 702.6 1530 702.8C1532.9 703.1 1535.8 704.6 1538.1 706.5C1540.7 708.7 1542.6 711.7 1544.2 714.6C1546 717.8 1547.2 721.3 1548.4 724.7C1549.6 728.2 1550.5 731.7 1551.5 735.3C1552.4 738.9 1553.2 742.5 1554 746.1C1554.7 749.7 1555.4 753.3 1556.1 756.9C1556.8 760.4 1557.4 764 1558 767.6C1558.6 771.1 1559.1 774.7 1559.6 778.2C1560.1 781.7 1560.6 785.3 1561.1 788.8C1561.6 792.3 1562 795.8 1562.4 799.2C1562.8 802.6 1563.2 806 1563.6 809.4C1564 812.8 1564.3 816.1 1564.7 819.5C1565 822.8 1565.3 826.1 1565.7 829.5C1566 832.8 1566.3 836.2 1566.6 839.5C1566.9 842.8 1567.2 846.2 1567.5 849.5C1567.8 852.8 1568.1 856.2 1568.3 859.5C1568.6 862.8 1568.9 866.2 1569.1 869.5C1569.4 872.8 1569.6 876.2 1569.9 879.5C1570.1 882.8 1570.3 886.2 1570.6 889.5C1570.8 892.8 1571 896.2 1571.2 899.5C1571.4 902.8 1571.6 906.2 1571.8 909.5C1572 912.8 1572.2 916.2 1572.3 919.5C1572.5 922.8 1572.7 926.2 1572.8 929.5C1573 932.8 1573.1 936.2 1573.3 939.5C1573.5 942.9 1573.6 946.3 1573.8 949.7C1573.9 953.1 1574.1 956.5 1574.2 959.9C1574.3 963.4 1574.5 966.9 1574.6 970.3C1574.8 973.8 1574.9 977.3 1575.1 980.7C1575.2 984.2 1575.3 987.7 1575.5 991.2C1575.6 994.6 1575.7 998.1 1575.9 1001.6C1576 1005.1 1576.1 1008.5 1576.3 1012C1576.4 1015.5 1576.5 1018.9 1576.6 1022.4C1576.8 1025.9 1576.9 1029.4 1577 1032.8C1577.1 1036.3 1577.3 1039.8 1577.4 1043.2C1577.5 1046.7 1577.6 1050.2 1577.7 1053.7C1577.8 1057.1 1577.9 1060.6 1578 1064C1578.1 1067.5 1578.1 1070.9 1578.2 1074.3C1578.2 1077.7 1578.2 1081 1578.2 1084.4C1578.2 1087.7 1578.2 1091 1578.2 1094.3C1578.2 1097.6 1578.1 1100.9 1578.1 1104.2C1578.1 1107.5 1578 1110.8 1578 1114.2C1578 1117.5 1578 1120.9 1578.1 1124.3C1578.1 1127.8 1578.1 1131.3 1578.2 1134.8C1578.3 1138.3 1578.3 1141.9 1578.4 1145.4C1578.5 1149 1578.6 1152.6 1578.7 1156.1C1578.7 1159.7 1578.8 1163.3 1578.9 1166.9C1579 1170.4 1579.1 1174 1579.3 1177.6C1579.4 1181.1 1579.5 1184.7 1579.6 1188.3C1579.7 1191.9 1579.9 1195.4 1580 1199C1580.2 1202.6 1580.3 1206.1 1580.5 1209.7C1580.6 1213.3 1580.8 1216.9 1580.9 1220.4C1581.1 1224 1581.3 1227.6 1581.4 1231.2C1581.6 1234.7 1581.8 1238.3 1582 1241.9C1582.2 1245.4 1582.3 1249 1582.5 1252.6C1582.7 1256.2 1582.9 1259.8 1583.1 1263.3C1583.4 1267 1583.6 1270.6 1583.8 1274.3C1584.1 1278.1 1584.4 1281.8 1584.6 1285.6C1584.9 1289.4 1585.2 1293.2 1585.5 1297C1585.9 1300.8 1586.2 1304.7 1586.5 1308.5L1586.5 1308.5C1586.9 1304.7 1587.3 1300.8 1587.7 1297C1588.1 1293.2 1588.5 1289.4 1588.9 1285.6C1589.2 1281.8 1589.6 1278.1 1589.9 1274.3C1590.1 1270.7 1590.4 1267 1590.6 1263.3C1590.9 1259.8 1591.1 1256.2 1591.3 1252.6C1591.5 1249 1591.7 1245.4 1591.8 1241.9C1592 1238.3 1592.2 1234.7 1592.4 1231.2C1592.5 1227.6 1592.7 1224 1592.9 1220.4C1593 1216.9 1593.2 1213.3 1593.3 1209.7C1593.5 1206.1 1593.6 1202.6 1593.7 1199C1593.9 1195.4 1594 1191.9 1594.1 1188.3C1594.2 1184.7 1594.4 1181.1 1594.5 1177.6C1594.6 1174 1594.7 1170.4 1594.8 1166.9C1594.9 1163.3 1595 1159.7 1595.1 1156.1C1595.2 1152.6 1595.3 1149 1595.3 1145.4C1595.4 1141.9 1595.5 1138.3 1595.5 1134.7C1595.6 1131.1 1595.7 1127.5 1595.7 1123.9C1595.8 1120.3 1595.8 1116.7 1595.8 1113.1C1595.9 1109.5 1595.9 1105.9 1595.9 1102.3C1595.9 1098.6 1595.9 1095 1596 1091.4C1596 1087.7 1596 1084.1 1596 1080.5C1596 1076.9 1596 1073.2 1596 1069.6C1596 1066 1596 1062.4 1596 1058.7C1596.1 1055.1 1596.1 1051.5 1596.1 1047.9C1596.2 1044.3 1596.2 1040.7 1596.3 1037.1C1596.3 1033.5 1596.4 1029.9 1596.5 1026.3C1596.6 1022.7 1596.7 1019.1 1596.8 1015.6C1596.9 1012 1597 1008.4 1597.1 1004.9C1597.2 1001.3 1597.4 997.7 1597.5 994.1C1597.6 990.6 1597.8 987 1597.9 983.4C1598 979.9 1598.2 976.3 1598.3 972.7C1598.5 969.1 1598.6 965.6 1598.8 962C1598.9 958.4 1599.1 954.9 1599.2 951.3C1599.4 947.7 1599.5 944.1 1599.7 940.6C1599.8 937 1600 933.4 1600.2 929.8C1600.3 926.3 1600.5 922.7 1600.7 919.1C1600.9 915.6 1601.1 912 1601.3 908.4C1601.5 904.9 1601.7 901.3 1601.9 897.7C1602.1 894.2 1602.3 890.6 1602.5 887.1C1602.7 883.6 1603 880.1 1603.2 876.6C1603.4 873.1 1603.7 869.6 1603.9 866.1C1604.2 862.7 1604.4 859.2 1604.7 855.7C1605 852.3 1605.3 848.8 1605.6 845.3C1605.9 841.8 1606.2 838.3 1606.5 834.9C1606.9 831.4 1607.2 827.8 1607.6 824.3C1608 820.7 1608.4 817.2 1608.9 813.6C1609.5 810 1610 806.4 1610.7 802.9C1611.4 799.8 1612.1 796.6 1613.3 793.6C1614 791.7 1614.8 789.6 1616.4 788.5C1617.3 787.9 1618.7 788.8 1619.3 789.7C1620.5 791.6 1620.8 793.9 1621.2 796.1C1621.8 799.1 1622.1 802.2 1622.5 805.3C1622.9 808.8 1623.2 812.3 1623.5 815.7C1623.8 819.2 1624 822.8 1624.3 826.3C1624.5 829.8 1624.7 833.3 1625 836.8C1625.2 840.2 1625.4 843.6 1625.6 847C1625.8 850.3 1625.9 853.6 1626.1 857C1626.3 860.3 1626.4 863.7 1626.6 867C1626.8 870.3 1626.9 873.7 1627.1 877C1627.2 880.3 1627.4 883.7 1627.5 887C1627.6 890.3 1627.8 893.7 1627.9 897C1628.1 900.3 1628.2 903.7 1628.3 907C1628.5 910.3 1628.6 913.7 1628.7 917C1628.9 920.3 1629 923.7 1629.1 927C1629.2 930.3 1629.4 933.7 1629.5 937C1629.6 940.3 1629.7 943.7 1629.8 947C1630 950.3 1630.1 953.7 1630.2 957C1630.3 960.3 1630.4 963.7 1630.5 967C1630.6 970.3 1630.8 973.6 1630.9 977C1631 980.2 1631.1 983.5 1631.3 986.8C1631.4 990 1631.5 993.1 1631.6 996.3C1631.8 999.5 1631.9 1002.6 1632.1 1005.8C1632.2 1008.8 1632.3 1011.9 1632.5 1014.9C1632.7 1017.7 1632.8 1020.5 1633 1023.3C1633.2 1025.7 1633.4 1028.1 1633.6 1030.6C1633.8 1032.7 1634 1034.9 1634.2 1037L1634.2 1037C1634.5 1034.2 1634.7 1031.4 1635 1028.7C1635.2 1025.9 1635.4 1023 1635.6 1020.2C1635.8 1017.3 1636 1014.3 1636.2 1011.4C1636.3 1008.2 1636.5 1005.1 1636.6 1001.9C1636.7 998.6 1636.8 995.3 1636.9 992C1637 988.7 1637 985.3 1637.1 982C1637.2 978.7 1637.2 975.3 1637.3 972C1637.4 968.5 1637.4 965.1 1637.5 961.7C1637.6 958.2 1637.6 954.7 1637.7 951.2C1637.8 947.7 1637.8 944.1 1637.9 940.6C1637.9 937 1638 933.4 1638.1 929.9C1638.1 926.3 1638.2 922.7 1638.2 919.1C1638.3 915.6 1638.4 912 1638.4 908.4C1638.5 904.9 1638.5 901.3 1638.6 897.7C1638.6 894.1 1638.7 890.6 1638.8 887C1638.8 883.4 1638.9 879.9 1638.9 876.3C1639 872.7 1639 869.1 1639.1 865.6C1639.2 862 1639.2 858.4 1639.3 854.9C1639.3 851.3 1639.4 847.7 1639.5 844.1C1639.5 840.6 1639.6 837 1639.6 833.4C1639.7 829.9 1639.8 826.3 1639.8 822.7C1639.9 819.1 1639.9 815.6 1640 812C1640.1 808.4 1640.1 804.9 1640.2 801.3C1640.2 797.7 1640.3 794.1 1640.4 790.6C1640.4 787 1640.5 783.4 1640.5 779.9C1640.6 776.3 1640.7 772.7 1640.7 769.1C1640.8 765.6 1640.8 762 1640.9 758.4C1641 754.9 1641 751.3 1641.1 747.7C1641.1 744.1 1641.2 740.6 1641.2 737C1641.3 733.4 1641.4 729.9 1641.4 726.3C1641.5 722.7 1641.5 719.1 1641.6 715.6C1641.6 712 1641.7 708.4 1641.7 704.9C1641.7 701.3 1641.8 697.7 1641.8 694.1C1641.9 690.6 1641.9 687 1642 683.4C1642 679.9 1642.1 676.3 1642.1 672.7C1642.2 669.2 1642.2 665.7 1642.2 662.1C1642.3 658.7 1642.3 655.2 1642.4 651.7C1642.4 648.2 1642.4 644.8 1642.5 641.3C1642.5 637.9 1642.5 634.4 1642.6 631C1642.6 627.6 1642.6 624.1 1642.7 620.7C1642.7 617.2 1642.8 613.8 1642.8 610.4C1642.9 606.9 1643 603.5 1643 600.1C1643.1 596.8 1643.2 593.4 1643.3 590C1643.3 586.7 1643.4 583.3 1643.5 580C1643.6 576.7 1643.7 573.3 1643.8 570C1643.9 566.7 1644.1 563.3 1644.2 560C1644.3 556.7 1644.4 553.3 1644.5 550C1644.6 546.7 1644.7 543.3 1644.8 540C1644.9 536.7 1645 533.3 1645.2 530C1645.3 526.7 1645.4 523.3 1645.5 520C1645.6 516.7 1645.7 513.3 1645.9 510C1646 506.7 1646.1 503.3 1646.3 500C1646.4 496.7 1646.6 493.3 1646.7 490C1646.9 486.7 1647 483.3 1647.2 480C1647.3 476.7 1647.5 473.3 1647.7 470C1647.8 466.7 1648 463.4 1648.2 460C1648.4 456.8 1648.6 453.5 1648.8 450.2C1648.9 447 1649.1 443.9 1649.3 440.7C1649.5 437.5 1649.7 434.4 1649.9 431.2C1650.2 428.1 1650.4 425 1650.6 421.8C1650.8 418.6 1651 415.5 1651.3 412.3C1651.5 409 1651.7 405.7 1652 402.5C1652.2 399.1 1652.4 395.8 1652.7 392.5C1652.9 389.2 1653.2 385.8 1653.4 382.5C1653.7 379.2 1653.9 375.9 1654.2 372.5C1654.5 369.3 1654.7 366 1655 362.7C1655.3 359.5 1655.6 356.3 1655.9 353.2C1656.1 350 1656.4 346.9 1656.8 343.7C1657.1 340.6 1657.4 337.5 1657.7 334.4C1658.1 331.4 1658.4 328.4 1658.8 325.4C1659.1 322.5 1659.5 319.6 1659.9 316.7C1660.3 313.9 1660.7 311.1 1661.2 308.3C1661.6 305.5 1662.1 302.8 1662.5 300C1663 297.2 1663.5 294.4 1664 291.6C1664.6 288.8 1665.1 286 1665.8 283.2C1666.5 280.2 1667.2 277.2 1668.1 274.3C1669 271.2 1670 268 1671.2 264.9C1672.4 261.8 1673.7 258.8 1675.2 255.8C1676.6 253 1678.1 250.2 1679.9 247.6C1681.6 245.2 1683.5 242.9 1685.7 240.8C1687.7 238.9 1690 237.1 1692.5 235.6C1694.9 234.1 1697.5 233 1700.1 232C1702.8 231 1705.5 230.3 1708.3 229.6C1711 229 1713.8 228.5 1716.6 228.1C1719.4 227.7 1722.2 227.4 1725 227.1C1727.7 226.8 1730.5 226.6 1733.3 226.4C1736.1 226.2 1739 226 1741.8 225.9C1744.8 225.7 1747.9 225.6 1750.9 225.5C1754.2 225.4 1757.5 225.3 1760.9 225.2C1764.4 225.1 1767.9 225 1771.4 224.9C1775 224.8 1778.6 224.7 1782.1 224.6C1785.7 224.5 1789.3 224.4 1792.9 224.4C1796.4 224.3 1800 224.2 1803.6 224.1C1807.1 224.1 1810.7 224 1814.3 223.9C1817.9 223.9 1821.4 223.8 1825 223.8C1828.6 223.7 1832.1 223.6 1835.7 223.6C1839.3 223.5 1842.9 223.5 1846.4 223.4C1850 223.4 1853.6 223.4 1857.1 223.3C1860.7 223.3 1864.3 223.2 1867.9 223.2C1871.4 223.2 1875 223.1 1878.6 223.1C1882.1 223.1 1885.7 223.1 1889.3 223.1C1892.9 223 1896.4 223 1900 223C1903.6 223 1907.1 223 1910.7 223C1914.3 223 1917.9 222.9 1921.4 222.9C1925 222.9 1928.6 222.9 1932.1 222.9C1935.7 222.9 1939.3 222.9 1942.9 222.9C1946.4 222.9 1950 223 1953.6 223C1957.1 223 1960.6 223.1 1964.1 223.1C1967.5 223.2 1970.8 223.2 1974.1 223.3C1977.1 223.4 1980.2 223.4 1983.2 223.6C1986 223.8 1988.8 223.9 1991.7 224.2C1994.4 224.5 1997.1 224.9 1999.8 225.4C2002.4 225.9 2004.9 226.6 2007.4 227.5C2009.8 228.3 2012.1 229.3 2014.3 230.6C2016.3 231.9 2018.3 233.4 2020 235C2021.7 236.7 2023.2 238.7 2024.6 240.7C2026 242.9 2027.2 245.3 2028.2 247.7C2029.3 250.3 2030.2 253.1 2031 255.9C2031.8 258.9 2032.5 262 2033.2 265.1C2033.9 268.4 2034.4 271.7 2035 275C2035.7 278.3 2036.3 281.6 2036.9 284.9C2037.5 288.1 2038.1 291.3 2038.8 294.5C2039.4 297.6 2040 300.6 2040.6 303.7C2041.2 306.7 2041.8 309.7 2042.3 312.7C2042.7 315.8 2043.2 318.8 2043.5 321.9C2043.9 325 2044.2 328.1 2044.5 331.2C2044.8 334.4 2045.1 337.6 2045.3 340.7C2045.6 344.1 2045.8 347.5 2046 350.8C2046.2 354.4 2046.3 358.1 2046.5 361.7C2046.7 365.5 2046.8 369.3 2047 373.1C2047.1 377 2047.3 380.8 2047.4 384.7C2047.5 388.6 2047.6 392.4 2047.7 396.3C2047.8 400.1 2047.9 404 2048 407.8C2048.1 411.7 2048.2 415.6 2048.3 419.4C2048.4 423.3 2048.4 427.1 2048.5 431C2048.5 434.8 2048.6 438.7 2048.7 442.5C2048.7 446.4 2048.8 450.2 2048.8 454.1C2048.9 457.9 2048.9 461.8 2049 465.6C2049 469.5 2049 473.3 2049.1 477.2C2049.1 481 2049.1 484.9 2049.2 488.7C2049.2 492.6 2049.2 496.4 2049.3 500.3C2049.3 504.2 2049.3 508 2049.4 511.9C2049.4 515.7 2049.4 519.6 2049.4 523.4C2049.5 527.3 2049.5 531.1 2049.5 535C2049.6 538.8 2049.6 542.7 2049.6 546.5C2049.6 550.4 2049.7 554.2 2049.7 558.1C2049.7 561.9 2049.7 565.8 2049.8 569.6C2049.8 573.5 2049.8 577.3 2049.9 581.2C2049.9 585 2049.9 588.9 2050 592.7C2050 596.6 2050.1 600.4 2050.1 604.3C2050.2 608.1 2050.2 612 2050.2 615.8C2050.3 619.7 2050.3 623.5 2050.4 627.4C2050.5 631.2 2050.5 635.1 2050.6 638.9C2050.6 642.8 2050.7 646.6 2050.8 650.4C2050.9 654.3 2050.9 658.1 2051 662C2051.1 665.8 2051.2 669.6 2051.3 673.5C2051.4 677.3 2051.5 681.1 2051.6 684.9C2051.7 688.8 2051.8 692.6 2052 696.4C2052.1 700.2 2052.2 704 2052.4 707.9C2052.5 711.7 2052.6 715.5 2052.8 719.3C2052.9 723.1 2053.1 727 2053.2 730.8C2053.4 734.6 2053.5 738.4 2053.7 742.2C2053.9 746.1 2054 749.9 2054.2 753.7C2054.3 757.5 2054.5 761.3 2054.7 765.2C2054.8 769 2055 772.8 2055.1 776.6C2055.3 780.4 2055.4 784.3 2055.6 788.1C2055.8 791.9 2055.9 795.7 2056.1 799.5C2056.2 803.4 2056.4 807.2 2056.5 811L2056.5 811C2056.6 807.2 2056.7 803.4 2056.8 799.5C2056.9 795.7 2056.9 791.9 2057 788.1C2057.1 784.3 2057.2 780.4 2057.3 776.6C2057.4 772.8 2057.5 769 2057.6 765.2C2057.6 761.3 2057.7 757.5 2057.8 753.7C2057.9 749.9 2058 746.1 2058.1 742.2C2058.2 738.4 2058.2 734.6 2058.3 730.8C2058.4 726.9 2058.5 723.1 2058.6 719.3C2058.7 715.5 2058.8 711.7 2058.9 707.8C2059 704 2059.1 700.2 2059.1 696.4C2059.2 692.6 2059.3 688.7 2059.4 684.9C2059.5 681.1 2059.6 677.3 2059.7 673.5C2059.8 669.7 2059.9 665.9 2060 662C2060.1 658.3 2060.2 654.5 2060.3 650.7C2060.4 646.9 2060.5 643.1 2060.6 639.3C2060.7 635.6 2060.8 631.8 2060.9 628C2061.1 624.2 2061.2 620.4 2061.3 616.7C2061.4 612.9 2061.5 609.1 2061.6 605.3C2061.7 601.6 2061.8 597.8 2062 594C2062.1 590.2 2062.2 586.4 2062.3 582.7C2062.4 578.9 2062.5 575.1 2062.7 571.3C2062.8 567.5 2062.9 563.7 2063 559.9C2063.1 556 2063.2 552.1 2063.3 548.2C2063.4 544.3 2063.6 540.4 2063.7 536.5C2063.8 532.6 2063.9 528.7 2064 524.8C2064.1 520.9 2064.2 517 2064.3 513.1C2064.4 509.2 2064.5 505.3 2064.6 501.4C2064.7 497.4 2064.8 493.5 2065 489.6C2065.1 485.7 2065.2 481.8 2065.3 477.9C2065.4 474 2065.6 470.1 2065.7 466.2C2065.8 462.3 2065.9 458.4 2066.1 454.4C2066.2 450.6 2066.4 446.7 2066.5 442.8C2066.7 439 2066.9 435.3 2067.1 431.5C2067.3 427.9 2067.6 424.3 2067.9 420.7C2068.2 417.3 2068.5 413.8 2068.9 410.3C2069.2 406.9 2069.6 403.5 2069.9 400.1C2070.2 396.7 2070.6 393.4 2070.9 390C2071.2 386.7 2071.5 383.3 2071.8 380C2072.1 376.6 2072.4 373.3 2072.7 370C2073.1 366.6 2073.4 363.3 2073.8 360C2074.2 356.6 2074.7 353.3 2075.2 350C2075.8 346.6 2076.4 343.3 2077.1 339.9C2077.8 336.6 2078.5 333.3 2079.4 330C2080.3 326.7 2081.2 323.4 2082.3 320.2C2083.3 317.1 2084.5 314.1 2085.9 311.1C2087.2 308.4 2088.6 305.7 2090.5 303.3C2092.1 301.2 2094 299.2 2096.3 297.9C2098.4 296.8 2101 296.3 2103.4 296.5C2106 296.7 2108.5 297.9 2110.7 299.2C2112.9 300.5 2114.8 302.4 2116.6 304.3C2118.3 306.1 2119.6 308.2 2120.9 310.4C2122.2 312.4 2123.3 314.7 2124.4 316.9C2125.5 319.1 2126.4 321.4 2127.4 323.7C2128.3 326 2129.1 328.3 2130 330.6C2130.8 332.8 2131.6 335 2132.3 337.2C2133.1 339.4 2133.8 341.6 2134.4 343.8C2135.1 346.1 2135.7 348.4 2136.3 350.8C2136.9 353.3 2137.5 355.9 2138 358.4C2138.6 361.2 2139.1 363.9 2139.7 366.6C2140.2 369.4 2140.7 372.2 2141.2 375C2141.7 377.8 2142.1 380.5 2142.6 383.3C2143 386.1 2143.4 389 2143.8 391.8C2144.3 394.8 2144.7 397.8 2145.1 400.7C2145.6 404 2146 407.2 2146.4 410.4C2146.8 413.9 2147.3 417.3 2147.6 420.7C2148 424.3 2148.3 427.9 2148.6 431.5C2148.9 435.3 2149.1 439 2149.3 442.8C2149.6 446.7 2149.8 450.6 2149.9 454.4C2150.1 458.4 2150.3 462.3 2150.5 466.2C2150.7 470.1 2150.8 474 2151 477.9C2151.2 481.8 2151.3 485.7 2151.5 489.6C2151.6 493.5 2151.8 497.4 2151.9 501.3C2152.1 505.3 2152.2 509.2 2152.3 513.1C2152.5 517 2152.6 520.9 2152.8 524.8C2152.9 528.7 2153 532.6 2153.2 536.5C2153.3 540.4 2153.5 544.3 2153.6 548.2C2153.7 552.1 2153.9 556 2154 559.9C2154.1 563.7 2154.2 567.5 2154.4 571.3C2154.5 575.1 2154.6 578.9 2154.7 582.7C2154.8 586.4 2155 590.2 2155.1 594C2155.2 597.8 2155.3 601.6 2155.4 605.3C2155.5 609.1 2155.6 612.9 2155.7 616.7C2155.8 620.4 2155.9 624.2 2156 628C2156.1 631.8 2156.2 635.6 2156.3 639.3C2156.4 643.1 2156.5 646.9 2156.7 650.7C2156.8 654.4 2156.9 658.2 2157 661.9C2157.1 665.6 2157.2 669.4 2157.4 673.1C2157.5 676.8 2157.6 680.5 2157.7 684.2C2157.9 687.9 2158 691.6 2158.1 695.3C2158.3 699 2158.4 702.7 2158.5 706.4C2158.6 710.1 2158.8 713.9 2158.9 717.6C2159 721.3 2159.2 725 2159.3 728.7C2159.4 732.4 2159.6 736.1 2159.7 739.8C2159.8 743.5 2160 747.2 2160.1 750.9C2160.2 754.7 2160.4 758.4 2160.5 762.2C2160.6 766 2160.8 769.8 2160.9 773.6C2161.1 777.4 2161.2 781.3 2161.3 785.1C2161.5 789 2161.6 792.8 2161.7 796.7C2161.9 800.5 2162 804.4 2162.2 808.3C2162.3 812.1 2162.4 816 2162.6 819.8C2162.7 823.7 2162.9 827.5 2163 831.4C2163.1 835.2 2163.3 839.1 2163.4 842.9C2163.6 846.8 2163.7 850.6 2163.8 854.5C2164 858.4 2164.1 862.2 2164.2 866.1C2164.4 869.9 2164.5 873.8 2164.7 877.6C2164.8 881.5 2164.9 885.3 2165.1 889.2C2165.2 893 2165.4 896.9 2165.5 900.8L2165.5 900.8C2165.6 896.9 2165.8 893 2165.9 889.2C2166.1 885.3 2166.2 881.5 2166.3 877.6C2166.5 873.8 2166.6 869.9 2166.8 866.1C2166.9 862.2 2167 858.4 2167.2 854.5C2167.3 850.6 2167.4 846.8 2167.6 842.9C2167.7 839.1 2167.9 835.2 2168 831.4C2168.1 827.5 2168.3 823.7 2168.4 819.8C2168.6 816 2168.7 812.1 2168.8 808.3C2169 804.4 2169.1 800.5 2169.3 796.7C2169.4 792.8 2169.5 789 2169.7 785.1C2169.8 781.3 2169.9 777.4 2170.1 773.6C2170.2 769.8 2170.4 766 2170.5 762.2C2170.6 758.4 2170.8 754.7 2170.9 750.9C2171 747.2 2171.2 743.5 2171.3 739.8C2171.5 736.1 2171.6 732.4 2171.7 728.7C2171.9 725 2172 721.3 2172.1 717.6C2172.3 713.9 2172.4 710.2 2172.6 706.4C2172.7 702.7 2172.8 699 2172.9 695.3C2173.1 691.6 2173.2 687.9 2173.3 684.2C2173.4 680.5 2173.6 676.8 2173.7 673.1C2173.8 669.4 2173.9 665.6 2174 661.9C2174.1 658.2 2174.2 654.4 2174.3 650.7C2174.4 646.9 2174.4 643.1 2174.5 639.3C2174.6 635.6 2174.7 631.8 2174.8 628C2174.8 624.2 2174.9 620.4 2175 616.7C2175 612.9 2175.1 609.1 2175.2 605.3C2175.2 601.6 2175.3 597.8 2175.4 594C2175.4 590.2 2175.5 586.4 2175.6 582.7C2175.6 578.9 2175.7 575.1 2175.8 571.3C2175.9 567.5 2175.9 563.8 2176 560C2176.1 556.2 2176.2 552.4 2176.3 548.6C2176.4 544.8 2176.4 540.9 2176.5 537.1C2176.6 533.3 2176.7 529.5 2176.8 525.7C2176.9 521.9 2177 518.1 2177.1 514.3C2177.2 510.5 2177.3 506.7 2177.4 502.9C2177.5 499 2177.6 495.2 2177.7 491.4C2177.8 487.6 2177.9 483.8 2178 480C2178.1 476.2 2178.1 472.4 2178.2 468.6C2178.3 464.8 2178.3 460.9 2178.4 457.1C2178.5 453.3 2178.5 449.5 2178.6 445.7C2178.6 441.9 2178.7 438.1 2178.8 434.3C2178.9 430.5 2179 426.7 2179.1 422.8C2179.2 419.1 2179.3 415.3 2179.5 411.5C2179.7 407.9 2179.9 404.3 2180.2 400.8C2180.4 397.4 2180.7 394.1 2181.1 390.7C2181.4 387.6 2181.9 384.4 2182.3 381.2C2182.7 378.1 2183.2 375 2183.6 371.9C2184.1 368.7 2184.5 365.6 2184.9 362.5C2185.2 359.4 2185.6 356.2 2185.9 353.1C2186.2 350 2186.5 346.9 2186.8 343.7C2187.1 340.6 2187.4 337.5 2187.8 334.4C2188.2 331.2 2188.5 328.1 2189 325C2189.5 321.8 2190 318.7 2190.6 315.5C2191.2 312.3 2191.9 309 2192.6 305.8C2193.4 302.3 2194.2 298.9 2195 295.6C2195.9 292.1 2196.8 288.6 2197.8 285.2C2198.8 281.8 2199.9 278.5 2201.2 275.2C2202.3 272.2 2203.5 269.2 2204.8 266.3C2206 263.8 2207.2 261.3 2208.7 259C2209.9 256.8 2211.3 254.8 2212.8 252.8C2214.3 250.9 2215.9 249.1 2217.6 247.5C2219.4 245.7 2221.4 244.1 2223.4 242.6C2225.6 241 2228 239.6 2230.4 238.2C2232.9 236.7 2235.5 235.4 2238 234"/>
<path stroke-width="12.5" d="M262 1251.5h0M262 1220h0M262 1190h0M262 1160h0M262 1130h0M262 1099.5h0M262 1069.5h0M262 1038h0M262.5 1008h0M264 978h0M267 948h0M269.5 917.5h0M271 887h0M271.2 857h0M272 825.8h0M272 795.8h0M272 765.8h0M272 735.8h0M272 704.5h0M271.2 674.5h0M270.8 645h0M270.8 613.8h0M271.2 583.8h0M272 553.8h0M273.2 523h0M274.5 492h0M275.8 461.8h0M278.8 432.5h0M281.2 401.2h0M283.8 372h0M285 341.2h0M290 310h0M300 280h0M315.8 251.8h0M338.8 239.5h0M368.8 236.2h0M397.5 233.8h0M425.8 231.8h0M455.5 232.5h0M485.8 233.2h0M515.8 232.8h0M546.2 233.2h0M575.5 235h0M605.8 234.2h0M636.2 233.8h0M666.2 235.8h0M696.2 236.2h0M726.2 236.2h0M756.2 239.2h0M786.2 244.2h0M813.2 261.2h0M828.8 291.8h0M837.5 322.5h0M843.8 352.5h0M850 383h0M852 413.8h0M856.2 442.5h0M858.8 473.8h0M861.8 504.5h0M863.8 535h0M865.5 565h0M867.5 595.5h0M869.2 625.8h0M870.8 655h0M871.8 686.2h0M872.5 716.2h0M874.2 747h0M875 777.5h0M876.8 807.5h0M877.5 837.8h0M878.2 868.2h0M879.5 898.2h0M880.8 929h0M881.8 959.5h0M883.8 989.5h0M884.5 1020h0M886.2 1050h0M890.8 1070h0M892.5 1038.2h0M893.8 1008.2h0M895 977.5h0M895.5 947h0M897.5 917h0M899.2 886.2h0M900.8 856.2h0M901.2 826.2h0M902 795.8h0M903 765h0M905 735h0M907 704.5h0M910.5 674h0M917.5 643.8h0M923.8 613.8h0M935.8 583.2h0M961.8 591.8h0M979.2 622.5h0M992.5 652.5h0M1003 682.5h0M1010.5 713.2h0M1015.5 743.8h0M1020 773.8h0M1024.2 804.5h0M1027 834.5h0M1030.5 864.5h0M1033 895h0M1035.5 925h0M1037.5 955.8h0M1039.5 986.2h0M1041.2 1016.2h0M1043 1047h0M1045 1077h0M1046.8 1107h0M1048.8 1137.8h0M1053 1165.2h0M1060.8 1134.5h0M1060.8 1105h0M1063.8 1075h0M1066.2 1044.5h0M1068.8 1014h0M1070.8 983.2h0M1073.2 952.8h0M1076.2 923.2h0M1080 892h0M1084.2 862h0M1088.8 832h0M1094 801.2h0M1099.2 770.8h0M1106 740.2h0M1114.5 710h0M1125 680h0M1137.5 650h0M1153.7 619.4h0M1181.2 612.9h0M1204.3 642.2h0M1219.4 672.6h0M1231.7 702.9h0M1241.5 732.9h0M1248.8 764h0M1254.5 793.2h0M1258.2 824h0M1261.2 854.5h0M1265 884.5h0M1268 915h0M1270 945.2h0M1273 975.8h0M1275 1006.2h0M1277.5 1036.2h0M1280 1066.2h0M1282.5 1097h0M1285 1127.8h0M1288.8 1157.8h0M1295.8 1144.5h0M1298.8 1113.2h0M1300.8 1083.2h0M1303.2 1053.2h0M1305.5 1023.2h0M1308 992.8h0M1310 962.5h0M1312.5 932h0M1315.5 902h0M1318.8 871.5h0M1322.5 840.8h0M1326.8 810.8h0M1331.2 780h0M1336.8 750h0M1343.2 720h0M1349.5 689.5h0M1361.7 659.4h0M1379.8 629h0M1405.3 605.4h0M1434.4 608h0M1459.2 627.5h0M1481.2 654.5h0M1494.5 685h0M1503.2 715h0M1510 745.8h0M1514.2 775.8h0M1518 806.2h0M1522.5 836.2h0M1525 867h0M1528.2 897.5h0M1531.8 927.5h0M1534.5 957.8h0M1538.8 988.2h0M1545 1018.2h0M1553.8 988.2h0M1559.2 957.8h0M1566.2 927.5h0M1582.5 898.8h0M1598.2 921.2h0M1603.8 951.5h0M1609.2 982h0M1621.2 975h0M1627 945h0M1636.8 918.2h0M1647.5 945h0M1652 914.5h0M1654.2 884.5h0M1656.2 854.5h0M1658 823.8h0M1659.5 793.2h0M1660.8 763.2h0M1661.8 732.8h0M1662.5 702h0M1665 672h0M1665.8 641.2h0M1666.8 611.2h0M1667.5 581.2h0M1670 550h0M1671.8 520h0M1673.8 490h0M1677 459.5h0M1680 430h0M1683.8 400h0M1686.8 368.8h0M1691.8 338h0M1701.2 308h0M1723.2 282h0M1747.5 272.5h0M1778.2 263.2h0M1807.5 265h0M1838 261h0M1867.5 258.8h0M1898 260.5h0M1927 258h0M1956.8 260h0M1987 257.5h0M2017.5 261.8h0M2042.5 272.5h0M2052 292h0M2060.8 320.8h0M2063 350.8h0M2065.5 381h0M2066.5 411h0M2067.5 441h0M2068.5 471h0M2074 502.5h0M2081.5 515.6h0M2084.8 485.6h0M2087 455h0M2088.8 425h0M2090 395h0M2092 365h0M2095.6 334h0M2112.5 312h0M2140 312h0M2155 339h0M2160.6 372.5h0M2162 403.8h0M2164.4 433h0M2165 463.8h0M2166 493.8h0M2167.5 524h0M2169 554h0M2170 585h0M2170.6 615h0M2172.5 646h0M2175 676h0M2180.5 647.5h0M2182 618h0M2183.5 587.5h0M2185 557h0M2187 527h0M2188 497h0M2190 466h0M2193 436h0M2194.5 405h0M2196 374h0M2199 345h0M2204.4 315h0M2220.6 285h0M2237.5 272h0"/>
<path stroke-width="21" d="M263 214.2h0M277.5 253.8h0M285 293.8h0M295 332.5h0M302.5 372.5h0M310 411.2h0M318.8 451.2h0M328.2 491.2h0M338.8 531.2h0M350 570h0M363.8 610h0M378.8 648.8h0M395.5 688.2h0M416.2 727.8h0M439.5 767.5h0M466.5 806.5h0M497.5 846.2h0M528.8 885.2h0M560.8 925h0M590.5 964.5h0M616.2 1003.8h0M637 1043.2h0M651.8 1082.8h0M665 1122h0M673 1162.8h0M680.5 1201.5h0M686.8 1241h0M691.2 1280.8h0M695 1320.2h0M698.2 1359.5h0M700.8 1399h0M703.2 1438.2h0M705.5 1477.8h0M707 1517.2h0M708.8 1556.5h0M708.8 1603.5h0M710 1643.5h0M710.5 1683h0M711.2 1722.8h0M712 1762.2h0M712.5 1801.8h0M713.2 1841h0M714.2 1880.5h0M723.8 1908.5h0M731 1880h0M731.5 1840h0M732 1800h0M732.5 1760h0M733 1720h0M733.5 1680h0M734 1640h0M734.5 1600h0M735 1560h0M735.5 1520h0M727.5 1460h0M747.5 1144h0M743.8 1183.5h0M741.2 1222.8h0M738.8 1262.2h0M737 1302h0M735 1341.5h0M732.5 1380.8h0M730 1420.2h0M750 1105h0M752 1066h0M754 1026h0M756.2 987h0M761.2 947h0M765.8 905.8h0M770.5 867h0M775 827h0M780 788.2h0M784.5 748.2h0M790 708.8h0M795 669.5h0M800 630h0M805 590h0M811.2 550h0M816.2 511.2h0M822.5 472.5h0M828.8 432.5h0M835 392.5h0M842.5 352.5h0M850 313.8h0M863.8 273.8h0M895 248.8h0M935 260h0M974.2 259.5h0M1013.8 253.2h0M1053 249.2h0M1092.5 252.5h0M1131.8 258h0M1171.8 262.5h0M1210.8 260h0M1252.5 257h0M1290 254.5h0M1329.5 259.2h0M1368.8 267.5h0M1408 270.8h0M1447.5 271.8h0M1487 269.2h0M1526.2 265.5h0M1565.8 267.5h0M1605.5 271.8h0M1642.5 281.2h0M1671.2 317h0M1677.5 357h0M1683.2 396.2h0M1687.5 435h0M1692.5 474.5h0M1697 514.5h0M1700.8 553.8h0M1705 593.2h0M1710.5 633h0M1716.2 672.5h0M1722 712h0M1728.8 750.8h0M1735.8 791.5h0M1743.8 830.8h0M1753.8 869.5h0M1763.2 909.5h0M1777 949h0M1791.8 988.2h0M1807.5 1027.8h0M1826.5 1067h0M1851.8 1107h0M1873 1146.5h0M1890 1185.8h0M1906.8 1225.2h0M1923.2 1264.8h0M1935.5 1304h0M1945 1344h0M1951.8 1383.2h0M1957.5 1422.2h0M1961.2 1462h0M1965 1501.5h0M1968.8 1540.8h0M1971.2 1579h0M1972.5 1621h0M1974.2 1660.2h0M1975.8 1700.2h0M1977 1739h0M1980 1778.5h0M1990 1817.2h0M1991.2 1782.2h0M1993.2 1742.8h0M1994.5 1703h0M1995.8 1663.5h0M1997 1624.2h0M1998 1584h0M1999.2 1544.8h0M2000 1505.2h0M2001.2 1466h0M2002.5 1426.5h0M2004.5 1387.2h0M2007 1347.8h0M2009.2 1308.2h0M2011.8 1269h0M2013.8 1229.5h0M2015.8 1189.8h0M2018.8 1150.2h0M2021.2 1110.8h0M2024.2 1071.2h0M2027 1032h0M2030 992.5h0M2032.5 952.8h0M2035.8 913.2h0M2038 874h0M2040.8 834.5h0M2043.2 795.2h0M2046.2 755.8h0M2048.8 716.2h0M2051.2 677h0M2053.8 637.5h0M2056.2 597.5h0M2059.5 557.5h0M2061.2 517.5h0M2064.5 477.5h0M2066.2 438.8h0M2068.8 400h0M2076 362h0M2092 400h0M2099.6 440h0M2111.6 479h0M2136 469h0M2147.5 430h0M2157.5 390h0M2165 351h0M2174.5 316h0M2187.5 357h0M2191 397h0M2195 436h0M2200 476h0M2205 515h0M2210 554h0M2215.6 594h0M2220.6 631h0M2226 673h0M2232 707h0"/>
<path clip-path="url(#ax)" stroke-width="13" d="M263 214.2C263.9 218.1 264.9 221.9 265.8 225.7C266.8 229.4 267.7 233 268.7 236.6C269.6 239.9 270.6 243.2 271.6 246.5C272.6 249.6 273.6 252.7 274.6 255.8C275.5 258.9 276.5 261.9 277.4 265C278.3 268 279.2 271.1 280.1 274.1C280.9 277.2 281.8 280.2 282.6 283.3C283.4 286.4 284.2 289.4 284.9 292.5C285.7 295.5 286.4 298.6 287.1 301.6C287.9 304.7 288.6 307.8 289.2 310.8C289.9 313.9 290.5 316.9 291.1 320C291.8 323 292.3 326.1 292.9 329.2C293.5 332.2 294 335.3 294.6 338.3C295.2 341.4 295.8 344.5 296.4 347.5C297 350.6 297.7 353.6 298.3 356.7C299 359.7 299.7 362.8 300.4 365.9C301.1 369 301.8 372.2 302.5 375.3C303.2 378.6 303.9 381.8 304.6 385.1C305.3 388.4 306 391.7 306.7 395C307.4 398.3 308.1 401.7 308.8 405C309.5 408.3 310.2 411.7 311 415C311.7 418.3 312.4 421.6 313.2 425C314 428.2 314.7 431.5 315.5 434.7C316.2 437.8 317 441 317.8 444.1C318.6 447.2 319.4 450.3 320.2 453.4C321 456.5 321.8 459.7 322.6 462.8C323.4 466.1 324.2 469.3 325 472.6C325.8 475.9 326.7 479.2 327.5 482.5C328.3 485.8 329.2 489.2 330 492.5C330.8 495.8 331.6 499.2 332.4 502.5C333.3 505.8 334.1 509.2 335 512.5C335.8 515.7 336.7 519 337.6 522.2C338.5 525.4 339.4 528.5 340.4 531.6C341.3 534.7 342.3 537.8 343.3 540.9C344.2 543.9 345.2 547 346.2 550C347.2 553.1 348.2 556.1 349.1 559.2C350.1 562.2 351.1 565.3 352.1 568.3C353.1 571.4 354.1 574.5 355.1 577.5C356.1 580.6 357.2 583.6 358.3 586.7C359.4 589.8 360.5 592.8 361.6 595.9C362.7 598.9 363.9 602 365.1 605C366.3 608.1 367.5 611.1 368.7 614.2C370 617.3 371.2 620.3 372.5 623.4C373.8 626.5 375.1 629.6 376.4 632.8C377.7 636 379.1 639.2 380.4 642.4C381.8 645.6 383.2 648.9 384.5 652.1C385.9 655.3 387.2 658.5 388.4 661.7C389.7 664.8 390.8 667.9 392.1 671C393.3 673.9 394.4 677 395.7 679.9C397 682.9 398.4 685.8 399.8 688.6C401.3 691.5 402.9 694.4 404.6 697.2C406.3 700 408.1 702.8 409.9 705.5C411.6 708.3 413.5 711 415.4 713.7C417.2 716.5 419.1 719.2 421 722C423 724.9 425 727.7 427 730.6C429.2 733.7 431.4 736.8 433.5 739.9C435.8 743.1 438.1 746.3 440.4 749.5C442.7 752.7 445 755.9 447.4 759.1C449.7 762.3 452 765.5 454.4 768.7C456.7 771.9 459.1 775.1 461.4 778.2C463.8 781.4 466.2 784.5 468.5 787.7C470.9 790.8 473.3 793.9 475.7 796.9C478.1 799.9 480.5 802.8 482.9 805.8C485.2 808.5 487.5 811.3 489.9 814C492.2 816.7 494.5 819.3 496.9 821.9C499.2 824.5 501.5 827.1 503.9 829.6C506.2 832.2 508.6 834.8 510.9 837.3C513.3 839.9 515.6 842.4 518 845C520.3 847.5 522.6 850 525 852.5C527.3 855 529.6 857.5 531.9 860C534.3 862.6 536.6 865.1 539 867.6C541.4 870.1 543.8 872.6 546.2 875.1C548.7 877.7 551.2 880.3 553.7 882.8C556.2 885.4 558.8 888 561.3 890.6C563.9 893.2 566.5 895.8 569.1 898.4C571.7 901 574.3 903.6 576.9 906.2C579.5 908.8 582.1 911.4 584.7 914C587.1 916.5 589.6 919 592.1 921.5C594.4 923.9 596.7 926.3 599 928.8C601.2 931.1 603.4 933.5 605.6 935.9C607.7 938.2 609.7 940.6 611.7 943C613.7 945.3 615.7 947.7 617.5 950.2C619.4 952.6 621.2 955.1 623 957.6C624.8 960.2 626.5 962.9 628.2 965.6C630 968.5 631.7 971.4 633.4 974.3C635.1 977.4 636.8 980.5 638.5 983.6C640.1 986.7 641.7 989.8 643.3 993C644.9 996.1 646.4 999.2 647.9 1002.4C649.4 1005.5 650.8 1008.6 652.2 1011.8C653.6 1014.9 654.9 1018 656.2 1021.1C657.5 1024.3 658.8 1027.4 660 1030.6C661.3 1033.8 662.5 1037 663.7 1040.3C665 1043.6 666.1 1047 667.3 1050.3C668.5 1053.7 669.6 1057.1 670.7 1060.5C671.7 1063.8 672.8 1067.1 673.8 1070.5C674.7 1073.6 675.6 1076.7 676.6 1079.9C677.4 1082.9 678.3 1085.9 679.1 1089C679.9 1091.9 680.6 1094.9 681.4 1097.9C682.1 1100.8 682.8 1103.7 683.5 1106.6C684.2 1109.5 684.8 1112.4 685.5 1115.4C686.1 1118.3 686.7 1121.3 687.3 1124.2C687.8 1127.3 688.4 1130.3 688.9 1133.4C689.5 1136.5 690 1139.6 690.5 1142.7C691 1145.9 691.5 1149 692 1152.1C692.5 1155.2 693 1158.4 693.5 1161.5C693.9 1164.6 694.4 1167.7 694.9 1170.9C695.3 1174 695.7 1177.1 696.2 1180.2C696.6 1183.4 697 1186.5 697.5 1189.6C697.9 1192.7 698.3 1195.9 698.8 1199C699.2 1202.1 699.6 1205.2 700 1208.4C700.5 1211.5 700.9 1214.6 701.3 1217.7C701.7 1220.9 702.2 1224 702.5 1227.1C702.9 1230.2 703.3 1233.4 703.7 1236.5C704.1 1239.6 704.4 1242.7 704.7 1245.9C705.1 1249 705.4 1252.1 705.7 1255.2C706 1258.4 706.3 1261.5 706.6 1264.6C706.9 1267.7 707.2 1270.9 707.5 1274C707.8 1277.1 708.1 1280.2 708.4 1283.4C708.7 1286.5 709.1 1289.6 709.4 1292.8C709.7 1295.9 710 1299 710.3 1302.1C710.6 1305.2 710.9 1308.4 711.3 1311.5C711.6 1314.6 711.9 1317.7 712.2 1320.9C712.5 1324 712.9 1327.1 713.2 1330.2C713.5 1333.4 713.8 1336.5 714.1 1339.6C714.4 1342.7 714.7 1345.9 714.9 1349C715.2 1352.1 715.5 1355.2 715.7 1358.4C715.9 1361.5 716.2 1364.6 716.4 1367.7C716.6 1370.9 716.8 1374 717 1377.1C717.1 1380.2 717.3 1383.4 717.5 1386.5C717.6 1389.6 717.7 1392.7 717.9 1395.9C718 1399 718.1 1402.1 718.2 1405.2C718.3 1408.4 718.4 1411.5 718.5 1414.7C718.6 1417.9 718.7 1421 718.8 1424.2C718.8 1427.5 718.9 1430.8 719 1434C719.1 1437.4 719.2 1440.7 719.3 1444C719.4 1447.3 719.4 1450.7 719.5 1454C719.6 1457.3 719.7 1460.7 719.8 1464C719.8 1467.3 719.9 1470.7 720 1474C720.1 1477.3 720.2 1480.7 720.3 1484C720.3 1487.3 720.4 1490.7 720.5 1494C720.6 1497.3 720.7 1500.7 720.8 1504C720.8 1507.3 720.9 1510.7 721 1514C721.1 1517.4 721.2 1520.8 721.2 1524.1C721.3 1527.5 721.4 1530.9 721.5 1534.4C721.6 1537.8 721.6 1541.2 721.7 1544.7C721.8 1548.1 721.8 1551.6 721.9 1555C722 1558.4 722.1 1561.9 722.1 1565.3C722.2 1568.8 722.3 1572.3 722.3 1575.8C722.4 1579.3 722.4 1582.9 722.5 1586.5C722.6 1590.3 722.6 1594 722.7 1597.8C722.8 1601.7 722.8 1605.6 722.9 1609.4C722.9 1613.3 723 1617.2 723.1 1621.1C723.1 1625 723.2 1629 723.3 1632.9C723.3 1636.8 723.4 1640.7 723.4 1644.6C723.5 1648.5 723.6 1652.4 723.6 1656.3C723.7 1660.2 723.7 1664.1 723.8 1668C723.9 1671.9 723.9 1675.8 724 1679.7C724 1683.6 724.1 1687.5 724.1 1691.4C724.2 1695.3 724.3 1699.2 724.3 1703.1C724.4 1707 724.4 1711 724.5 1714.9C724.5 1718.8 724.6 1722.7 724.7 1726.6C724.7 1730.5 724.8 1734.4 724.8 1738.3C724.9 1742.1 724.9 1746 725 1749.8C725.1 1753.6 725.1 1757.4 725.2 1761.2C725.2 1765 725.3 1768.7 725.3 1772.5C725.4 1776.2 725.4 1780 725.5 1783.7C725.5 1787.5 725.6 1791.2 725.6 1795C725.7 1798.7 725.7 1802.5 725.8 1806.2C725.9 1810 725.9 1813.7 726 1817.5C726 1821.2 726.1 1825 726.1 1828.7C726.2 1832.5 726.2 1836.2 726.3 1840C726.3 1843.7 726.4 1847.5 726.4 1851.2C726.5 1855 726.5 1858.7 726.6 1862.5C726.6 1866.2 726.7 1870 726.7 1873.7C726.8 1877.5 726.8 1881.2 726.9 1885C726.9 1888.7 727 1892.5 727 1896.2C727.1 1900 727.1 1903.7 727.2 1907.5C727.2 1911.2 727.3 1915 727.3 1918.7C727.4 1922.5 727.4 1926.2 727.5 1930L727.5 1930C727.6 1926.2 727.6 1922.5 727.7 1918.7C727.7 1915 727.8 1911.2 727.9 1907.5C727.9 1903.7 728 1900 728.1 1896.2C728.1 1892.5 728.2 1888.7 728.2 1885C728.3 1881.2 728.4 1877.5 728.4 1873.7C728.5 1870 728.5 1866.2 728.6 1862.5C728.7 1858.7 728.7 1855 728.8 1851.2C728.8 1847.5 728.9 1843.7 729 1840C729 1836.2 729.1 1832.5 729.2 1828.7C729.2 1825 729.3 1821.2 729.3 1817.5C729.4 1813.7 729.5 1810 729.5 1806.2C729.6 1802.5 729.6 1798.7 729.7 1795C729.8 1791.2 729.8 1787.5 729.9 1783.7C730 1780 730 1776.2 730.1 1772.5C730.2 1768.7 730.2 1765 730.3 1761.2C730.4 1757.4 730.4 1753.6 730.5 1749.8C730.6 1746 730.6 1742.1 730.7 1738.3C730.8 1734.4 730.9 1730.5 730.9 1726.6C731 1722.7 731.1 1718.8 731.2 1714.9C731.2 1711 731.3 1707 731.4 1703.1C731.5 1699.2 731.6 1695.3 731.6 1691.4C731.7 1687.5 731.8 1683.6 731.9 1679.7C732 1675.8 732 1671.9 732.1 1668C732.2 1664.1 732.3 1660.2 732.4 1656.3C732.4 1652.4 732.5 1648.5 732.6 1644.6C732.7 1640.7 732.8 1636.8 732.8 1632.9C732.9 1629 733 1625 733.1 1621.1C733.1 1617.2 733.2 1613.3 733.3 1609.4C733.4 1605.6 733.5 1601.7 733.5 1597.8C733.6 1594 733.7 1590.3 733.7 1586.5C733.8 1582.9 733.9 1579.3 733.9 1575.8C734 1572.3 734 1568.8 734.1 1565.3C734.1 1561.9 734.2 1558.4 734.2 1555C734.3 1551.6 734.3 1548.1 734.3 1544.7C734.4 1541.2 734.5 1537.8 734.5 1534.4C734.6 1530.9 734.6 1527.5 734.7 1524.1C734.8 1520.8 734.9 1517.4 735 1514C735.1 1510.7 735.1 1507.3 735.2 1504C735.3 1500.7 735.4 1497.3 735.6 1494C735.7 1490.7 735.8 1487.3 735.9 1484C736 1480.7 736.1 1477.3 736.2 1474C736.3 1470.7 736.4 1467.3 736.5 1464C736.6 1460.7 736.7 1457.3 736.9 1454C737 1450.7 737.1 1447.3 737.2 1444C737.3 1440.7 737.4 1437.3 737.5 1434C737.7 1430.7 737.8 1427.3 737.9 1424C738 1420.7 738.1 1417.3 738.3 1414C738.4 1410.7 738.5 1407.3 738.6 1404C738.8 1400.7 738.9 1397.3 739 1394C739.1 1390.7 739.3 1387.3 739.4 1384C739.5 1380.6 739.7 1377.2 739.8 1373.7C740 1370.3 740.1 1366.8 740.3 1363.3C740.4 1359.7 740.6 1356.2 740.7 1352.7C740.9 1349.1 741.1 1345.6 741.2 1342C741.4 1338.4 741.6 1334.9 741.7 1331.3C741.9 1327.8 742.1 1324.2 742.3 1320.6C742.4 1317 742.6 1313.4 742.8 1309.8C743 1306.1 743.2 1302.4 743.4 1298.7C743.6 1295 743.8 1291.2 744 1287.5C744.2 1283.7 744.5 1280 744.7 1276.2C744.9 1272.5 745.1 1268.7 745.3 1265C745.5 1261.2 745.8 1257.5 746 1253.7C746.2 1250 746.5 1246.2 746.7 1242.5C746.9 1238.8 747.2 1235 747.4 1231.3C747.7 1227.6 747.9 1223.9 748.2 1220.2C748.5 1216.6 748.7 1213 749 1209.4C749.3 1205.8 749.5 1202.2 749.8 1198.7C750.1 1195.1 750.4 1191.5 750.7 1188C751 1184.4 751.3 1180.9 751.6 1177.3C751.9 1173.8 752.2 1170.2 752.5 1166.6C752.8 1163.1 753.1 1159.5 753.4 1156C753.7 1152.4 754 1148.9 754.3 1145.3C754.6 1141.8 755 1138.2 755.3 1134.6C755.6 1131.1 755.9 1127.5 756.3 1123.9C756.6 1120.3 756.9 1116.7 757.3 1113.1C757.6 1109.5 758 1105.9 758.3 1102.2C758.7 1098.6 759.1 1095 759.4 1091.4C759.8 1087.7 760.2 1084.1 760.5 1080.5C760.9 1076.9 761.3 1073.2 761.7 1069.6C762 1066 762.4 1062.4 762.8 1058.7C763.1 1055.1 763.5 1051.5 763.9 1047.9C764.3 1044.3 764.6 1040.7 765 1037.1C765.4 1033.5 765.7 1029.9 766.1 1026.3C766.4 1022.7 766.8 1019.1 767.1 1015.6C767.5 1012 767.9 1008.4 768.2 1004.9C768.6 1001.3 768.9 997.7 769.3 994.1C769.6 990.6 770 987 770.4 983.4C770.7 979.9 771.1 976.3 771.4 972.7C771.8 969.1 772.1 965.6 772.5 962C772.9 958.4 773.2 954.9 773.6 951.3C773.9 947.7 774.3 944.1 774.6 940.6C775 937 775.4 933.4 775.7 929.9C776.1 926.3 776.4 922.7 776.8 919.1C777.1 915.6 777.5 912 777.9 908.4C778.2 904.9 778.6 901.3 778.9 897.7C779.3 894.1 779.6 890.6 780 887C780.4 883.4 780.7 879.9 781.1 876.3C781.4 872.7 781.8 869.1 782.1 865.6C782.5 862 782.9 858.4 783.2 854.9C783.6 851.3 783.9 847.7 784.3 844.1C784.6 840.6 785 837 785.4 833.4C785.7 829.9 786.1 826.3 786.4 822.7C786.8 819.1 787.1 815.6 787.5 812C787.9 808.4 788.2 804.9 788.6 801.3C788.9 797.7 789.3 794.1 789.6 790.6C790 787 790.3 783.4 790.7 779.9C791 776.3 791.4 772.7 791.8 769.1C792.1 765.6 792.5 762 792.8 758.4C793.2 754.9 793.5 751.3 793.9 747.7C794.3 744.1 794.6 740.6 795 737C795.4 733.4 795.7 729.9 796.1 726.3C796.5 722.7 796.8 719.1 797.2 715.6C797.6 712 797.9 708.4 798.3 704.8C798.7 701.3 799.1 697.7 799.5 694.1C799.8 690.6 800.2 687 800.6 683.4C801 679.9 801.4 676.3 801.8 672.7C802.2 669.2 802.6 665.7 803 662.1C803.4 658.7 803.9 655.2 804.3 651.7C804.7 648.2 805.2 644.8 805.6 641.3C806 637.9 806.5 634.4 807 631C807.4 627.6 807.9 624.1 808.3 620.7C808.8 617.2 809.2 613.8 809.7 610.3C810.1 606.8 810.6 603.3 811 599.9C811.4 596.3 811.9 592.8 812.3 589.3C812.7 585.7 813.1 582.1 813.6 578.6C814 575 814.4 571.4 814.8 567.9C815.2 564.3 815.7 560.7 816.1 557.1C816.5 553.6 816.9 550 817.4 546.4C817.8 542.8 818.2 539.3 818.7 535.7C819.1 532.1 819.6 528.6 820 525C820.5 521.4 820.9 517.8 821.4 514.3C821.9 510.7 822.4 507.1 822.9 503.6C823.3 500 823.8 496.4 824.3 492.8C824.8 489.3 825.3 485.7 825.8 482.1C826.3 478.5 826.8 475 827.3 471.4C827.9 467.8 828.4 464.3 828.9 460.7C829.4 457.2 830 453.6 830.5 450.1C831.1 446.6 831.6 443.1 832.2 439.6C832.7 436.1 833.3 432.6 833.8 429.1C834.4 425.7 835 422.2 835.6 418.7C836.2 415.2 836.8 411.8 837.3 408.3C838 404.8 838.6 401.3 839.2 397.8C839.8 394.2 840.4 390.7 841.1 387.1C841.8 383.4 842.4 379.6 843.1 375.9C843.8 372.1 844.5 368.3 845.2 364.5C845.9 360.6 846.7 356.8 847.4 353C848.1 349.1 848.9 345.3 849.7 341.5C850.4 337.8 851.2 334 852 330.3C852.8 326.7 853.6 323 854.5 319.4C855.3 315.8 856.2 312.3 857.1 308.7C857.9 305.2 858.8 301.7 859.7 298.2C860.6 294.9 861.4 291.6 862.3 288.3C863.1 285.3 863.9 282.3 864.8 279.2C865.6 276.4 866.4 273.6 867.4 270.7C868.3 267.9 869.3 265.1 870.3 262.4C871.5 259.5 872.6 256.7 873.9 253.9C875.2 251.1 876.6 248.4 878.2 245.7C879.7 243.1 881.4 240.6 883.3 238.2C885.1 236 887.1 233.9 889.3 232C891.5 230.3 893.9 228.7 896.4 227.5C898.9 226.3 901.6 225.5 904.3 224.9C907.1 224.2 910 223.9 912.9 223.7C915.9 223.6 918.9 223.6 921.9 223.7C925 223.8 928.1 224 931.3 224.2C934.4 224.4 937.5 224.7 940.6 224.8C943.6 225 946.6 225.2 949.6 225.3C952.5 225.4 955.4 225.5 958.3 225.5C961.1 225.5 963.9 225.4 966.7 225.3C969.6 225.3 972.5 225.1 975.4 225C978.4 224.9 981.4 224.7 984.4 224.5C987.5 224.3 990.6 224.1 993.8 223.9C996.9 223.6 1000 223.4 1003.1 223.2C1006.2 223 1009.4 222.8 1012.5 222.7C1015.6 222.5 1018.7 222.3 1021.9 222.2C1025 222 1028.1 221.9 1031.2 221.8C1034.4 221.7 1037.5 221.6 1040.6 221.6C1043.7 221.5 1046.9 221.5 1050 221.5C1053.1 221.6 1056.3 221.6 1059.4 221.8C1062.5 221.9 1065.6 222 1068.8 222.2C1071.9 222.3 1075 222.5 1078.1 222.7C1081.3 222.9 1084.4 223.1 1087.5 223.3C1090.6 223.5 1093.7 223.7 1096.9 223.9C1100 224.1 1103.1 224.3 1106.2 224.4C1109.4 224.6 1112.6 224.8 1115.7 225C1119.1 225.2 1122.4 225.3 1125.7 225.4C1129.3 225.6 1132.8 225.7 1136.4 225.8C1140.1 225.8 1143.8 225.9 1147.5 225.9C1151.2 226 1155 226 1158.7 226C1162.5 226 1166.3 226 1170 225.9C1173.8 225.9 1177.5 225.8 1181.3 225.7C1185 225.6 1188.8 225.5 1192.5 225.4C1196.2 225.2 1199.9 225.1 1203.6 224.9C1207.2 224.8 1210.7 224.7 1214.3 224.5C1217.6 224.4 1220.9 224.2 1224.3 224.1C1227.4 223.9 1230.6 223.8 1233.7 223.7C1236.9 223.5 1240 223.4 1243.1 223.3C1246.2 223.2 1249.4 223.1 1252.5 223.1C1255.6 223.1 1258.8 223 1261.9 223C1265 223.1 1268.1 223.1 1271.3 223.2C1274.4 223.2 1277.6 223.3 1280.7 223.4C1284.1 223.5 1287.4 223.7 1290.7 223.8C1294.3 224 1297.8 224.2 1301.4 224.4C1305.1 224.6 1308.8 224.9 1312.5 225.2C1316.3 225.4 1320 225.7 1323.8 225.9C1327.6 226.2 1331.4 226.4 1335.2 226.7C1339 226.9 1342.8 227.1 1346.7 227.3C1350.5 227.5 1354.4 227.7 1358.2 227.8C1361.9 227.9 1365.7 228 1369.4 228C1372.9 228 1376.4 228 1379.9 227.9C1383.3 227.9 1386.6 227.7 1390 227.6C1393.3 227.5 1396.7 227.4 1400 227.2C1403.3 227.1 1406.7 226.9 1410 226.8C1413.4 226.7 1416.7 226.6 1420.1 226.5C1423.5 226.5 1427 226.4 1430.5 226.4C1434.1 226.4 1437.7 226.5 1441.3 226.6C1445.1 226.7 1448.8 226.8 1452.5 226.9C1456.3 227.1 1460 227.3 1463.8 227.5C1467.5 227.8 1471.3 228 1475 228.3C1478.8 228.6 1482.5 229 1486.3 229.3C1490 229.7 1493.8 230.1 1497.5 230.5C1501.2 230.9 1504.8 231.3 1508.5 231.7C1511.9 232.1 1515.2 232.5 1518.6 232.8C1521.5 233 1524.4 233.3 1527.4 233.4C1530.2 233.5 1532.9 233.5 1535.7 233.4C1538.6 233.4 1541.6 233.2 1544.5 233C1547.6 232.8 1550.7 232.4 1553.7 232.2C1556.9 232 1560 231.7 1563.1 231.5C1566.2 231.4 1569.3 231.3 1572.4 231.3C1575.5 231.3 1578.6 231.5 1581.7 231.7C1584.7 231.9 1587.7 232.3 1590.7 232.7C1593.4 233.1 1596.2 233.6 1598.9 234.1C1601.3 234.6 1603.7 235.1 1606.1 235.7C1608.2 236.2 1610.4 236.7 1612.5 237.2C1614.6 237.7 1616.7 238.1 1618.8 238.6C1621 239.2 1623.3 239.6 1625.4 240.4C1627.7 241.2 1630 242.1 1632 243.5C1634.3 244.9 1636.3 246.8 1638 248.8C1639.9 250.9 1641.4 253.3 1642.7 255.7C1644 258.1 1644.9 260.6 1645.8 263.1C1646.7 265.6 1647.4 268.1 1648 270.7C1648.7 273.4 1649.2 276.1 1649.7 278.8C1650.2 281.6 1650.7 284.5 1651.1 287.3C1651.5 290.1 1651.8 293 1652.1 295.8C1652.4 298.6 1652.7 301.4 1653 304.2C1653.3 307.1 1653.5 310 1653.8 312.9C1654.1 315.9 1654.4 318.9 1654.6 321.9C1654.9 325 1655.2 328.1 1655.5 331.3C1655.8 334.4 1656.1 337.5 1656.4 340.7C1656.7 343.9 1657 347 1657.3 350.2C1657.7 353.5 1658 356.8 1658.3 360C1658.6 363.4 1659 366.7 1659.3 370C1659.7 373.3 1660 376.7 1660.3 380C1660.7 383.3 1661 386.7 1661.3 390C1661.6 393.3 1662 396.7 1662.3 400C1662.6 403.3 1662.8 406.7 1663.1 410C1663.4 413.3 1663.7 416.7 1663.9 420C1664.2 423.3 1664.5 426.7 1664.8 430C1665 433.3 1665.3 436.7 1665.6 440C1665.9 443.3 1666.2 446.7 1666.6 450C1666.9 453.3 1667.3 456.7 1667.7 460C1668 463.3 1668.4 466.7 1668.8 470C1669.2 473.3 1669.7 476.7 1670.1 480C1670.5 483.3 1670.9 486.7 1671.3 490C1671.7 493.3 1672.1 496.7 1672.5 500C1672.8 503.3 1673.2 506.7 1673.5 510C1673.9 513.3 1674.2 516.7 1674.6 520C1674.9 523.3 1675.2 526.7 1675.5 530C1675.9 533.3 1676.2 536.7 1676.5 540C1676.8 543.3 1677.2 546.7 1677.5 550C1677.8 553.3 1678.2 556.7 1678.5 560C1678.8 563.3 1679.2 566.7 1679.5 570C1679.8 573.3 1680.2 576.7 1680.5 580C1680.8 583.3 1681.2 586.6 1681.5 590C1681.8 593.2 1682.1 596.5 1682.5 599.8C1682.8 603 1683.1 606.1 1683.4 609.3C1683.7 612.5 1684.1 615.6 1684.4 618.8C1684.7 621.8 1685 624.9 1685.3 628C1685.6 631 1685.9 634 1686.2 637C1686.5 639.9 1686.8 642.7 1687.1 645.6C1687.3 648.4 1687.6 651.2 1687.9 653.9C1688.2 656.9 1688.5 659.8 1688.8 662.7C1689.1 665.8 1689.4 669 1689.7 672.1C1690.1 675.4 1690.4 678.7 1690.8 682C1691.1 685.3 1691.5 688.7 1691.8 692C1692.2 695.3 1692.5 698.7 1692.9 702C1693.3 705.3 1693.6 708.7 1694 712C1694.4 715.3 1694.8 718.7 1695.2 722C1695.6 725.3 1696 728.7 1696.4 732C1696.8 735.3 1697.2 738.7 1697.6 742C1698 745.4 1698.4 748.7 1698.8 752.1C1699.2 755.6 1699.6 759.1 1700 762.6C1700.4 766.3 1700.8 770 1701.2 773.7C1701.6 777.5 1702 781.4 1702.4 785.2C1702.8 789.1 1703.2 792.9 1703.7 796.8C1704.1 800.6 1704.5 804.5 1704.9 808.3C1705.3 812 1705.8 815.7 1706.2 819.4C1706.7 822.9 1707.1 826.4 1707.6 829.9C1708 833.3 1708.5 836.7 1709 840C1709.4 843.4 1709.9 846.7 1710.4 850C1711 853.4 1711.5 856.7 1712.1 860C1712.6 863.4 1713.2 866.7 1713.8 870C1714.5 873.4 1715.1 876.7 1715.8 880.1C1716.5 883.4 1717.2 886.7 1717.9 890.1C1718.6 893.4 1719.4 896.8 1720.1 900.1C1720.9 903.4 1721.7 906.7 1722.5 910.1C1723.4 913.4 1724.2 916.7 1725.1 920C1726 923.4 1726.9 926.7 1727.8 930.1C1728.8 933.4 1729.8 936.7 1730.7 940.1C1731.7 943.4 1732.8 946.7 1733.8 950.1C1734.8 953.4 1735.8 956.7 1736.9 960C1737.9 963.3 1738.9 966.5 1739.9 969.8C1741 973 1742 976.2 1743 979.4C1744 982.5 1745 985.7 1746.1 988.8C1747.1 992 1748.2 995.1 1749.3 998.3C1750.4 1001.6 1751.6 1004.8 1752.8 1008.1C1754.1 1011.6 1755.5 1015.1 1756.8 1018.5C1758.2 1022.1 1759.6 1025.7 1761.1 1029.3C1762.5 1032.9 1764 1036.4 1765.4 1040C1766.8 1043.3 1768.2 1046.7 1769.7 1050C1771 1052.9 1772.3 1055.9 1773.7 1058.9C1775 1061.6 1776.3 1064.4 1777.6 1067.1C1779 1069.8 1780.4 1072.5 1781.7 1075.2C1783.2 1078 1784.6 1080.7 1786 1083.4C1787.5 1086.1 1789 1088.8 1790.5 1091.5C1792.1 1094.2 1793.7 1096.9 1795.4 1099.6C1797.1 1102.4 1798.9 1105.1 1800.8 1107.8C1802.7 1110.5 1804.6 1113.2 1806.6 1116C1808.6 1118.7 1810.6 1121.5 1812.6 1124.3C1814.6 1127.1 1816.7 1130 1818.8 1132.8C1820.9 1135.6 1823.1 1138.3 1825.4 1141.1C1827.7 1143.7 1830.1 1146.3 1832.5 1148.9C1834.7 1151.4 1837 1153.8 1839.2 1156.4C1841.2 1158.8 1843.2 1161.3 1845.1 1163.8C1846.9 1166.3 1848.6 1168.9 1850.2 1171.5C1851.9 1174.1 1853.6 1176.8 1855.2 1179.5C1856.9 1182.4 1858.6 1185.3 1860.2 1188.2C1861.9 1191.2 1863.5 1194.2 1865.1 1197.2C1866.7 1200.2 1868.2 1203.2 1869.7 1206.3C1871.2 1209.2 1872.5 1212.1 1873.9 1215.1C1875.2 1218 1876.5 1220.9 1877.8 1223.9C1879 1226.8 1880.3 1229.7 1881.4 1232.7C1882.6 1235.7 1883.8 1238.7 1885 1241.7C1886.1 1244.7 1887.2 1247.8 1888.3 1250.8C1889.4 1253.9 1890.5 1257 1891.5 1260.2C1892.6 1263.3 1893.6 1266.4 1894.6 1269.6C1895.6 1272.8 1896.5 1276 1897.4 1279.2C1898.4 1282.4 1899.3 1285.7 1900.2 1289C1901 1292.3 1901.9 1295.6 1902.7 1298.9C1903.6 1302.3 1904.4 1305.6 1905.2 1309C1906 1312.4 1906.7 1315.8 1907.5 1319.2C1908.3 1322.7 1909 1326.2 1909.8 1329.6C1910.5 1333.2 1911.3 1336.7 1912 1340.2C1912.7 1343.8 1913.5 1347.3 1914.2 1350.9C1914.9 1354.4 1915.5 1357.9 1916.2 1361.5C1916.9 1365 1917.6 1368.6 1918.2 1372.1C1918.9 1375.6 1919.5 1379.2 1920.1 1382.7C1920.8 1386.3 1921.4 1389.8 1922 1393.4C1922.6 1397 1923.2 1400.6 1923.7 1404.2C1924.3 1407.9 1924.9 1411.6 1925.4 1415.3C1926 1419 1926.5 1422.7 1927 1426.5C1927.6 1430.2 1928.1 1433.9 1928.5 1437.7C1929 1441.3 1929.5 1444.9 1929.9 1448.5C1930.3 1452 1930.7 1455.4 1931.1 1458.9C1931.5 1462.3 1931.8 1465.6 1932.2 1469C1932.5 1472.3 1932.8 1475.7 1933.1 1479C1933.5 1482.3 1933.8 1485.7 1934.1 1489C1934.4 1492.3 1934.7 1495.7 1935 1499C1935.3 1502.3 1935.5 1505.7 1935.8 1509C1936.1 1512.3 1936.3 1515.7 1936.6 1519C1936.8 1522.3 1937.1 1525.7 1937.3 1529C1937.6 1532.3 1937.8 1535.6 1938 1538.9C1938.3 1542.2 1938.5 1545.5 1938.7 1548.7C1939 1551.9 1939.2 1555 1939.4 1558.2C1939.7 1561.3 1939.9 1564.4 1940.1 1567.5C1940.3 1570.6 1940.5 1573.7 1940.7 1576.9C1940.9 1580.2 1941.1 1583.5 1941.2 1586.8C1941.4 1590.4 1941.6 1593.9 1941.8 1597.5C1941.9 1601.2 1942.1 1605 1942.3 1608.7C1942.4 1612.5 1942.6 1616.3 1942.8 1620.1C1942.9 1623.9 1943.1 1627.7 1943.2 1631.4C1943.4 1635.2 1943.6 1639 1943.7 1642.8C1943.9 1646.6 1944 1650.4 1944.2 1654.2C1944.3 1658 1944.5 1661.8 1944.6 1665.5C1944.8 1669.3 1944.9 1673.1 1945 1676.9C1945.2 1680.7 1945.3 1684.5 1945.5 1688.3C1945.6 1692.1 1945.7 1695.8 1945.9 1699.6C1946 1703.4 1946.1 1707.1 1946.2 1710.9C1946.4 1714.6 1946.5 1718.4 1946.6 1722.1C1946.7 1725.8 1946.8 1729.5 1946.9 1733.2C1947 1736.9 1947.1 1740.6 1947.2 1744.3C1947.3 1748 1947.4 1751.7 1947.4 1755.4C1947.5 1759.1 1947.6 1762.8 1947.7 1766.6C1947.8 1770.3 1947.9 1774 1947.9 1777.7C1948 1781.4 1948.1 1785.1 1948.2 1788.8C1948.3 1792.5 1948.4 1796.2 1948.5 1799.9C1948.6 1803.7 1948.7 1807.5 1948.8 1811.2C1948.9 1815.1 1949 1818.9 1949.1 1822.8C1949.2 1826.7 1949.3 1830.6 1949.4 1834.5C1949.5 1838.4 1949.6 1842.3 1949.7 1846.2C1949.9 1850.1 1950 1854 1950.1 1857.9C1950.2 1861.8 1950.3 1865.7 1950.4 1869.6C1950.5 1873.5 1950.7 1877.5 1950.8 1881.4C1950.9 1885.3 1951 1889.2 1951.1 1893.1C1951.2 1897 1951.3 1900.9 1951.5 1904.8C1951.6 1908.7 1951.7 1912.6 1951.8 1916.5C1951.9 1920.5 1952 1924.4 1952.2 1928.3C1952.3 1932.2 1952.4 1936.1 1952.5 1940L1952.5 1940C1952.6 1936.1 1952.8 1932.2 1952.9 1928.3C1953.1 1924.4 1953.2 1920.5 1953.3 1916.5C1953.5 1912.6 1953.6 1908.7 1953.7 1904.8C1953.9 1900.9 1954 1897 1954.2 1893.1C1954.3 1889.2 1954.4 1885.3 1954.6 1881.4C1954.7 1877.5 1954.9 1873.5 1955 1869.6C1955.1 1865.7 1955.3 1861.8 1955.4 1857.9C1955.5 1854 1955.7 1850.1 1955.8 1846.2C1955.9 1842.3 1956.1 1838.4 1956.2 1834.5C1956.3 1830.6 1956.5 1826.7 1956.6 1822.8C1956.7 1818.9 1956.9 1815.1 1957 1811.2C1957.1 1807.5 1957.2 1803.7 1957.4 1799.9C1957.5 1796.2 1957.6 1792.5 1957.7 1788.8C1957.8 1785.1 1958 1781.4 1958.1 1777.7C1958.2 1774 1958.3 1770.3 1958.4 1766.6C1958.5 1762.9 1958.7 1759.2 1958.8 1755.4C1958.9 1751.7 1959 1748 1959.1 1744.3C1959.2 1740.6 1959.3 1736.9 1959.4 1733.2C1959.5 1729.5 1959.6 1725.8 1959.7 1722.1C1959.8 1718.4 1959.9 1714.6 1960 1710.9C1960.1 1707.1 1960.2 1703.4 1960.3 1699.6C1960.3 1695.8 1960.4 1692.1 1960.5 1688.3C1960.6 1684.5 1960.7 1680.7 1960.7 1676.9C1960.8 1673.1 1960.9 1669.3 1961 1665.5C1961 1661.8 1961.1 1658 1961.2 1654.2C1961.2 1650.4 1961.3 1646.6 1961.4 1642.8C1961.4 1639 1961.5 1635.2 1961.6 1631.5C1961.7 1627.7 1961.7 1623.9 1961.8 1620.1C1961.9 1616.3 1961.9 1612.5 1962 1608.7C1962.1 1605 1962.2 1601.2 1962.3 1597.5C1962.3 1593.9 1962.4 1590.4 1962.5 1586.8C1962.6 1583.5 1962.7 1580.2 1962.8 1576.9C1962.9 1573.8 1963 1570.6 1963.1 1567.5C1963.2 1564.4 1963.3 1561.3 1963.4 1558.2C1963.5 1554.9 1963.6 1551.7 1963.8 1548.5C1963.9 1545 1964 1541.6 1964.1 1538.2C1964.2 1534.7 1964.3 1531.1 1964.5 1527.6C1964.6 1524 1964.7 1520.4 1964.8 1516.9C1964.9 1513.3 1965.1 1509.7 1965.2 1506.1C1965.3 1502.6 1965.4 1499 1965.5 1495.4C1965.7 1491.9 1965.8 1488.3 1965.9 1484.7C1966 1481.1 1966.1 1477.6 1966.2 1474C1966.4 1470.4 1966.5 1466.9 1966.6 1463.3C1966.7 1459.7 1966.8 1456.1 1966.9 1452.6C1967 1449 1967.1 1445.4 1967.3 1441.9C1967.4 1438.3 1967.5 1434.7 1967.6 1431.1C1967.7 1427.6 1967.8 1424 1968 1420.4C1968.1 1416.9 1968.2 1413.3 1968.3 1409.7C1968.5 1406.1 1968.6 1402.6 1968.8 1399C1968.9 1395.4 1969.1 1391.9 1969.2 1388.3C1969.4 1384.7 1969.5 1381.1 1969.7 1377.6C1969.9 1374 1970 1370.4 1970.2 1366.9C1970.4 1363.3 1970.6 1359.7 1970.8 1356.1C1970.9 1352.6 1971.1 1349 1971.3 1345.4C1971.5 1341.9 1971.7 1338.3 1971.9 1334.7C1972.1 1331.1 1972.3 1327.6 1972.5 1324C1972.7 1320.4 1972.9 1316.9 1973.2 1313.3C1973.4 1309.7 1973.6 1306.1 1973.9 1302.6C1974.1 1299 1974.3 1295.4 1974.6 1291.9C1974.8 1288.3 1975.1 1284.7 1975.3 1281.1C1975.5 1277.6 1975.8 1274 1976 1270.4C1976.3 1266.9 1976.5 1263.3 1976.8 1259.7C1977 1256.1 1977.3 1252.6 1977.5 1249C1977.7 1245.4 1978 1241.9 1978.2 1238.3C1978.4 1234.7 1978.7 1231.1 1978.9 1227.6C1979.2 1224 1979.4 1220.4 1979.6 1216.9C1979.9 1213.3 1980.1 1209.7 1980.3 1206.1C1980.6 1202.6 1980.8 1199 1981 1195.4C1981.3 1191.9 1981.5 1188.3 1981.8 1184.8C1982 1181.3 1982.2 1177.8 1982.5 1174.3C1982.7 1170.9 1983 1167.5 1983.2 1164C1983.5 1160.7 1983.7 1157.3 1984 1154C1984.2 1150.7 1984.5 1147.3 1984.7 1144C1985 1140.6 1985.2 1137.3 1985.5 1133.9C1985.7 1130.5 1986 1127 1986.2 1123.6C1986.5 1119.9 1986.7 1116.3 1987 1112.7C1987.2 1109 1987.5 1105.3 1987.7 1101.6C1988 1097.9 1988.3 1094.1 1988.5 1090.4C1988.8 1086.7 1989 1082.9 1989.3 1079.2C1989.5 1075.5 1989.8 1071.7 1990 1068C1990.3 1064.3 1990.5 1060.5 1990.8 1056.8C1991 1053.1 1991.3 1049.3 1991.5 1045.6C1991.8 1041.9 1992 1038.1 1992.3 1034.4C1992.5 1030.7 1992.8 1026.9 1993 1023.2C1993.3 1019.5 1993.5 1015.8 1993.7 1012C1994 1008.3 1994.2 1004.6 1994.5 1000.9C1994.7 997.2 1994.9 993.5 1995.1 989.8C1995.4 986.1 1995.6 982.4 1995.8 978.7C1996 975 1996.3 971.3 1996.5 967.6C1996.7 963.8 1996.9 960.1 1997.2 956.4C1997.4 952.7 1997.6 949 1997.9 945.3C1998.1 941.6 1998.3 937.9 1998.5 934.2C1998.8 930.5 1999 926.8 1999.3 923.1C1999.5 919.4 1999.8 915.7 2000 912C2000.3 908.3 2000.5 904.6 2000.8 900.9C2001 897.2 2001.3 893.5 2001.6 889.8C2001.8 886.1 2002.1 882.4 2002.4 878.7C2002.7 875 2002.9 871.3 2003.2 867.5C2003.5 863.8 2003.8 860.1 2004.1 856.4C2004.3 852.7 2004.6 849 2004.9 845.3C2005.2 841.6 2005.5 837.9 2005.8 834.2C2006 830.5 2006.3 826.8 2006.6 823.1C2006.9 819.5 2007.2 815.8 2007.5 812.1C2007.8 808.5 2008.1 804.9 2008.4 801.3C2008.7 797.7 2008.9 794.1 2009.2 790.6C2009.5 787 2009.8 783.4 2010.1 779.9C2010.4 776.3 2010.7 772.7 2011 769.1C2011.3 765.6 2011.6 762 2012 758.4C2012.3 754.9 2012.6 751.3 2012.9 747.7C2013.2 744.1 2013.5 740.6 2013.8 737C2014.1 733.4 2014.4 729.9 2014.7 726.3C2015.1 722.7 2015.4 719.1 2015.7 715.6C2016 712 2016.3 708.4 2016.7 704.9C2017 701.3 2017.3 697.7 2017.6 694.1C2017.9 690.6 2018.3 687 2018.6 683.4C2018.9 679.8 2019.2 676.3 2019.5 672.7C2019.9 669 2020.2 665.4 2020.5 661.7C2020.9 658 2021.2 654.3 2021.5 650.5C2021.9 646.8 2022.2 643 2022.5 639.2C2022.9 635.4 2023.2 631.6 2023.5 627.8C2023.9 623.9 2024.2 620.1 2024.6 616.3C2024.9 612.5 2025.2 608.7 2025.6 604.9C2025.9 601.1 2026.3 597.3 2026.6 593.5C2026.9 589.7 2027.3 585.9 2027.6 582.1C2027.9 578.3 2028.3 574.5 2028.6 570.7C2028.9 566.9 2029.3 563.1 2029.6 559.3C2029.9 555.5 2030.3 551.6 2030.6 547.8C2030.9 544 2031.2 540.2 2031.5 536.4C2031.9 532.7 2032.2 528.9 2032.5 525.1C2032.8 521.4 2033.1 517.6 2033.4 513.9C2033.7 510.2 2034 506.5 2034.3 502.8C2034.6 499.1 2034.9 495.4 2035.1 491.7C2035.4 488 2035.7 484.3 2036 480.6C2036.3 476.9 2036.5 473.2 2036.8 469.5C2037.1 465.8 2037.4 462 2037.6 458.3C2037.9 454.6 2038.2 450.9 2038.4 447.2C2038.7 443.5 2039 439.8 2039.2 436.1C2039.5 432.4 2039.7 428.7 2040 425C2040.2 421.3 2040.5 417.6 2040.7 413.9C2041 410.2 2041.2 406.5 2041.4 402.8C2041.6 399.1 2041.9 395.4 2042.1 391.7C2042.3 388 2042.5 384.3 2042.7 380.6C2042.9 376.8 2043.2 373.1 2043.4 369.4C2043.6 365.7 2043.8 362 2044 358.3C2044.3 354.6 2044.5 350.9 2044.7 347.2C2045 343.5 2045.2 339.9 2045.5 336.2C2045.7 332.6 2046 329 2046.2 325.4C2046.5 321.9 2046.7 318.5 2047 315C2047.2 311.7 2047.5 308.3 2047.8 304.9C2048.1 301.6 2048.4 298.3 2048.7 294.9C2049.1 291.6 2049.4 288.3 2049.9 285.1C2050.3 282 2050.7 278.8 2051.5 275.8C2052.1 273.4 2052.7 270.8 2054 268.7C2054.8 267.4 2056.1 265.9 2057.7 265.9C2059.3 265.9 2060.6 267.3 2061.6 268.6C2063.1 270.5 2063.9 272.9 2064.8 275.2C2065.8 277.8 2066.5 280.6 2067.3 283.3C2068 286 2068.7 288.8 2069.3 291.6C2070 294.4 2070.6 297.2 2071.2 300C2071.8 302.8 2072.3 305.5 2072.9 308.3C2073.5 311.1 2074 313.9 2074.6 316.7C2075.2 319.5 2075.7 322.2 2076.3 325C2076.9 327.8 2077.5 330.6 2078.2 333.4C2078.8 336.2 2079.5 339 2080.3 341.8C2081.2 344.7 2082 347.7 2083.1 350.5C2084.2 353.5 2085.4 356.5 2086.8 359.4C2088.1 362.1 2089.6 364.9 2091.4 367.3C2092.9 369.4 2094.6 371.5 2096.7 372.9C2098.5 374.1 2100.6 374.9 2102.7 374.9C2104.9 375 2107.1 374.1 2109 372.9C2111.3 371.5 2113.2 369.4 2114.9 367.3C2116.9 364.9 2118.5 362.1 2120.1 359.4C2121.7 356.5 2123 353.5 2124.3 350.5C2125.5 347.7 2126.6 344.7 2127.5 341.8C2128.5 339 2129.3 336.2 2130.1 333.4C2131 330.6 2131.7 327.8 2132.6 325C2133.4 322.2 2134.2 319.5 2135 316.7C2135.8 313.9 2136.7 311.1 2137.5 308.3C2138.3 305.6 2139.2 302.8 2140 300C2140.8 297.2 2141.6 294.4 2142.5 291.7C2143.3 288.8 2144.2 286 2145 283.1C2146 280 2146.9 276.9 2147.9 273.9C2148.9 270.5 2150 267.1 2151.1 263.8C2152.3 260.6 2153.4 257.3 2154.9 254.3C2156.1 251.9 2157.2 249.4 2159.1 247.5C2160.3 246.3 2162.1 245.2 2163.8 245.3C2165.6 245.4 2167.2 246.7 2168.4 247.9C2170 249.7 2171.1 251.9 2172.1 254C2173.2 256.5 2174 259 2174.8 261.6C2175.6 264.2 2176.3 266.9 2176.9 269.5C2177.6 272.2 2178.2 274.9 2178.8 277.6C2179.4 280.3 2179.9 283.1 2180.5 285.8C2181.1 288.6 2181.6 291.4 2182.2 294.2C2182.7 297.1 2183.3 300 2183.8 303C2184.4 306 2184.9 309.1 2185.5 312.2C2186 315.3 2186.6 318.5 2187.1 321.7C2187.7 325 2188.2 328.3 2188.8 331.6C2189.3 334.9 2189.9 338.3 2190.4 341.7C2191 345.1 2191.5 348.6 2192.1 352C2192.6 355.4 2193.2 358.7 2193.7 362.1C2194.2 365.3 2194.8 368.6 2195.3 371.8C2195.8 375 2196.3 378.1 2196.9 381.3C2197.4 384.4 2197.9 387.5 2198.4 390.7C2199 393.9 2199.5 397.1 2200 400.4C2200.6 403.7 2201.1 407.1 2201.7 410.4C2202.2 413.8 2202.8 417.2 2203.3 420.6C2203.9 423.9 2204.4 427.2 2205 430.5C2205.5 433.6 2206.1 436.8 2206.7 439.9C2207.2 443 2207.8 446.1 2208.4 449.2C2209 452.5 2209.6 455.8 2210.1 459C2210.8 462.7 2211.4 466.3 2212 470C2212.7 473.8 2213.4 477.7 2214 481.6C2214.7 485.5 2215.4 489.5 2216 493.4C2216.7 497.3 2217.3 501.3 2218 505.2C2218.7 509.1 2219.3 513 2220 516.9C2220.7 520.8 2221.3 524.7 2222 528.6C2222.7 532.5 2223.3 536.3 2224 540.2C2224.7 544.1 2225.3 547.9 2226 551.8C2226.7 555.7 2227.3 559.5 2228 563.4C2228.7 567.3 2229.3 571.2 2230 575.1C2230.7 579 2231.3 582.9 2232 586.8C2232.7 590.7 2233.3 594.7 2234 598.6C2234.7 602.5 2235.3 606.5 2236 610.4C2236.7 614.3 2237.3 618.3 2238 622.2C2238.7 626.1 2239.3 630.1 2240 634"/>
</g>
<rect x="263.4" y="214.1" width="1974.6" height="1693.9" fill="none" stroke="#000" stroke-width="6"/>
<path d="M658.3 1908v-31.5M1053.2 1908v-31.5M1448.2 1908v-31.5M1843.1 1908v-31.5M263.4 552.9h31.5M263.4 891.7h31.5M263.4 1230.4h31.5M263.4 1569.2h31.5" fill="none" stroke="#000" stroke-width="6" stroke-linecap="butt"/>
<path d="M867 449.4H1230" stroke="#000" stroke-width="6" fill="none"/><path d="M847 449.4L923.5 433.1L898.5 446.4L898.5 452.4L923.5 465.7ZM1250 449.4L1173.5 433.1L1198.5 446.4L1198.5 452.4L1173.5 465.7Z" fill="#000"/>
<path d="M1276 449.4H1631" stroke="#000" stroke-width="6" fill="none"/><path d="M1256 449.4L1332.5 433.1L1307.5 446.4L1307.5 452.4L1332.5 465.7ZM1651 449.4L1574.5 433.1L1599.5 446.4L1599.5 452.4L1574.5 465.7Z" fill="#000"/>
<text x="92.5" y="122.1" font-size="95.5">S</text>
<text x="139.8 173.7" y="134" font-size="64">21</text>
<text x="204.9" y="122.1" font-size="95.5">,</text>
<text x="252.1" y="122.1" font-size="95.5">S</text>
<text x="299.4 330.9" y="134" font-size="64">11</text>
<text x="363.5" y="122.1" font-size="95.5">,</text>
<text x="410.7 456.6" y="122.1" font-size="95.5">dB</text>
<text x="182.9" y="254.8" font-size="95.5">0</text>
<text x="48.8" y="582" font-size="95.5">−10</text>
<text x="49.5" y="926" font-size="95.5">−20</text>
<text x="48.8" y="1265" font-size="95.5">−30</text>
<text x="48.8" y="1598" font-size="95.5">−40</text>
<text x="48.8" y="1932" font-size="95.5">−50</text>
<text x="243.3" y="1998.2" font-size="95.5">0</text>
<text x="597.5 645.7 668.1" y="1998.2" font-size="95.5">0.5</text>
<text x="993.2 1041.5 1063.8" y="1998.2" font-size="95.5">1.0</text>
<text x="1389.5 1437.7 1460.1" y="1998.2" font-size="95.5">1.5</text>
<text x="1784.2 1832.5 1854.8" y="1998.2" font-size="95.5">2.0</text>
<text x="2177.4 2225.6 2248" y="1998.2" font-size="95.5">2.5</text>
<text x="817.8" y="1993.5" font-size="95.5">f</text>
<text x="843.9" y="2004.8" font-size="64">l</text>
<text x="1631.6" y="1998" font-size="95.5">f</text>
<text x="1657.8" y="2009.8" font-size="64">h</text>
<text x="1100.3 1126.3 1150 1174.1 1241.8 1312.1" y="2133.7" font-size="95.5">f, GHz</text>
<text x="418.2" y="641.3" font-size="95.5">S</text>
<text x="465.3 499" y="653.1" font-size="64">21</text>
<text x="1290" y="1302.6" font-size="95.5">S</text>
<text x="1339.2 1371.5" y="1315.2" font-size="64">11</text>
<text x="1225.8" y="590.7" font-size="95.5">f</text>
<text x="1251.9" y="602.7" font-size="64">0</text>
<text x="955.5 1016.5 1056.2 1089.2" y="423.8" font-size="95.5">Δf/2</text>
<text x="1371.8 1432.8 1472.5 1505.5" y="423.8" font-size="95.5">Δf/2</text>
</svg></body></html>
